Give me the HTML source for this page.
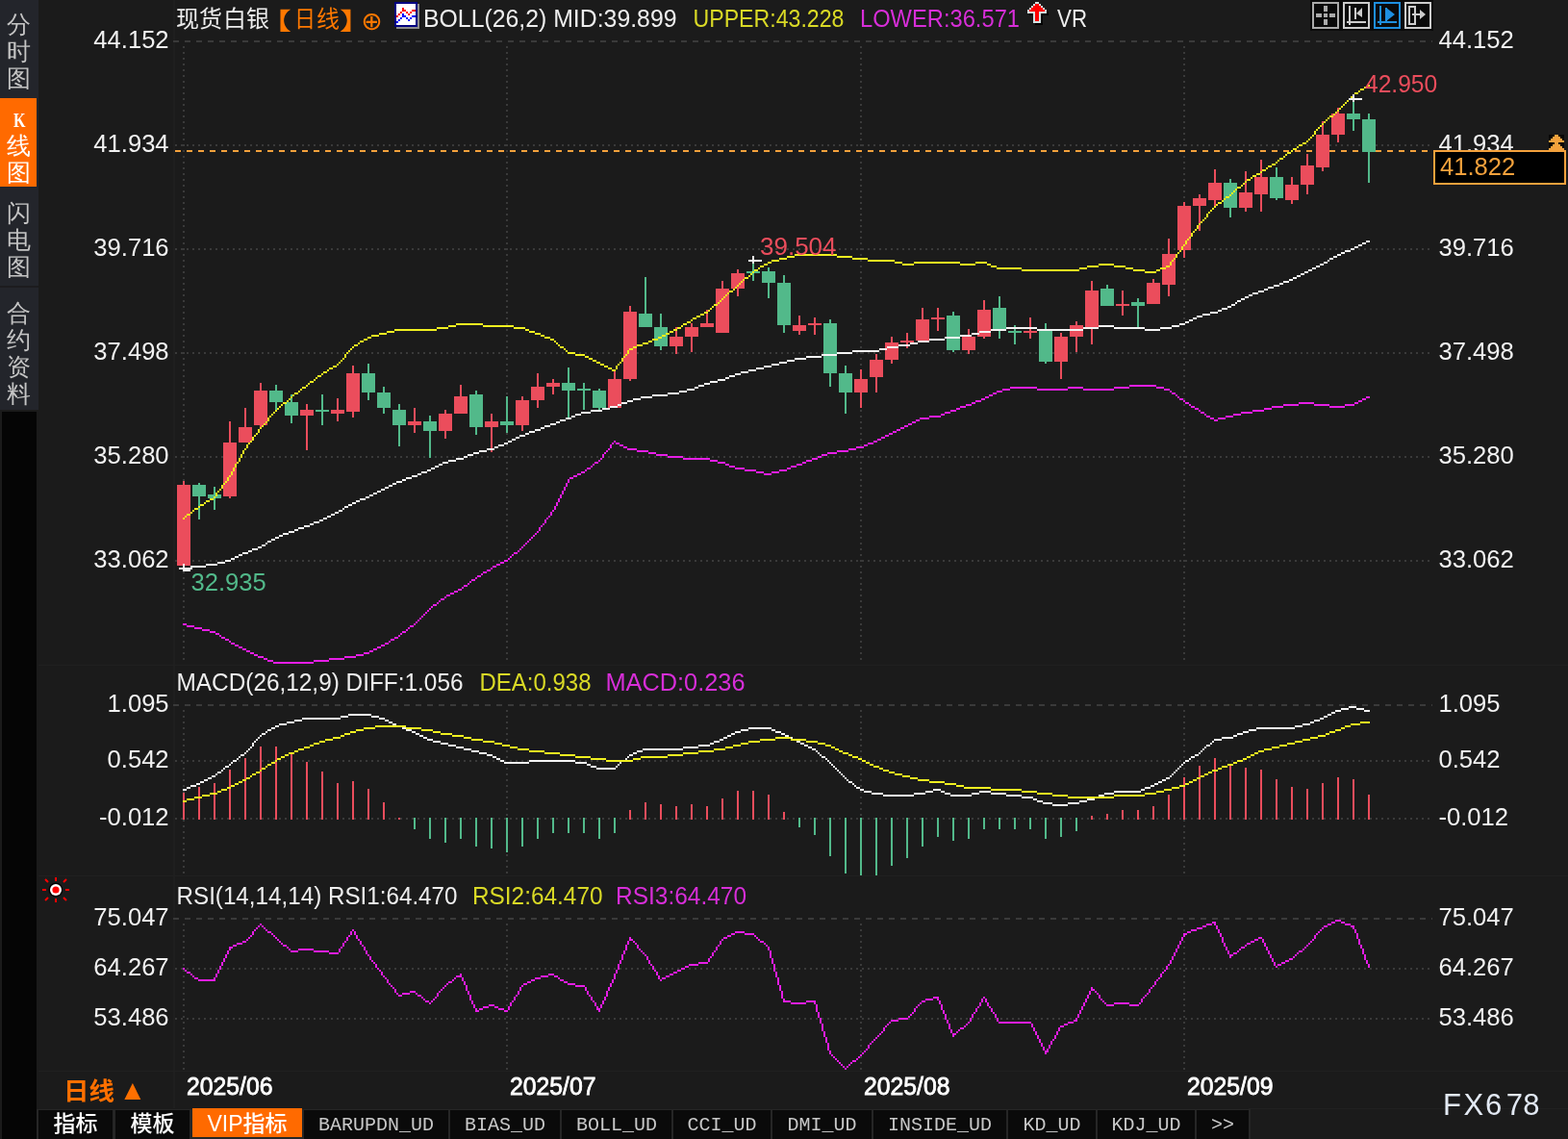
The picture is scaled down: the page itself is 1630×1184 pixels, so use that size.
<!DOCTYPE html>
<html><head><meta charset="utf-8"><title>现货白银 K线图</title>
<style>html,body{margin:0;padding:0;background:#1b1b1b;width:1630px;height:1184px;overflow:hidden}svg text{shape-rendering:auto}</style>
</head><body>
<svg width="1630" height="1184" viewBox="0 0 1630 1184" style="position:absolute;left:0;top:0" shape-rendering="crispEdges"><rect x="0" y="0" width="1630" height="1184" fill="#1b1b1b"/><rect x="0" y="0" width="40" height="426" fill="#23252b"/><rect x="0" y="102" width="38" height="92" fill="#ff6a00"/><rect x="0" y="297" width="40" height="2" fill="#1c1c1e"/><rect x="2" y="428" width="36" height="756" fill="#050505"/><rect x="180" y="0" width="2" height="1152" fill="#1f1f1f"/><rect x="40" y="691" width="1590" height="1" fill="#202020"/><rect x="40" y="910" width="1590" height="1" fill="#202020"/><rect x="40" y="1113" width="1590" height="1" fill="#202020"/><line x1="180" y1="43" x2="1489" y2="43" stroke="#3a3a3a" stroke-width="2" stroke-dasharray="6 6"/><line x1="182" y1="151" x2="1489" y2="151" stroke="#3a3a3a" stroke-width="2" stroke-dasharray="2 4"/><line x1="182" y1="259" x2="1489" y2="259" stroke="#3a3a3a" stroke-width="2" stroke-dasharray="2 4"/><line x1="182" y1="367" x2="1489" y2="367" stroke="#3a3a3a" stroke-width="2" stroke-dasharray="2 4"/><line x1="182" y1="475" x2="1489" y2="475" stroke="#3a3a3a" stroke-width="2" stroke-dasharray="2 4"/><line x1="182" y1="583" x2="1489" y2="583" stroke="#3a3a3a" stroke-width="2" stroke-dasharray="2 4"/><line x1="191" y1="48" x2="191" y2="690" stroke="#3a3a3a" stroke-width="2" stroke-dasharray="2 4"/><line x1="527" y1="48" x2="527" y2="690" stroke="#3a3a3a" stroke-width="2" stroke-dasharray="2 4"/><line x1="895" y1="48" x2="895" y2="690" stroke="#3a3a3a" stroke-width="2" stroke-dasharray="2 4"/><line x1="1231" y1="48" x2="1231" y2="690" stroke="#3a3a3a" stroke-width="2" stroke-dasharray="2 4"/><line x1="180" y1="733" x2="1489" y2="733" stroke="#3a3a3a" stroke-width="2" stroke-dasharray="6 6"/><line x1="182" y1="791" x2="1489" y2="791" stroke="#3a3a3a" stroke-width="2" stroke-dasharray="2 4"/><line x1="182" y1="851" x2="1489" y2="851" stroke="#3a3a3a" stroke-width="2" stroke-dasharray="2 4"/><line x1="191" y1="738" x2="191" y2="910" stroke="#3a3a3a" stroke-width="2" stroke-dasharray="2 4"/><line x1="527" y1="738" x2="527" y2="910" stroke="#3a3a3a" stroke-width="2" stroke-dasharray="2 4"/><line x1="895" y1="738" x2="895" y2="910" stroke="#3a3a3a" stroke-width="2" stroke-dasharray="2 4"/><line x1="1231" y1="738" x2="1231" y2="910" stroke="#3a3a3a" stroke-width="2" stroke-dasharray="2 4"/><line x1="180" y1="955" x2="1489" y2="955" stroke="#3a3a3a" stroke-width="2" stroke-dasharray="6 6"/><line x1="182" y1="1007" x2="1489" y2="1007" stroke="#3a3a3a" stroke-width="2" stroke-dasharray="2 4"/><line x1="182" y1="1059" x2="1489" y2="1059" stroke="#3a3a3a" stroke-width="2" stroke-dasharray="2 4"/><line x1="191" y1="960" x2="191" y2="1113" stroke="#3a3a3a" stroke-width="2" stroke-dasharray="2 4"/><line x1="527" y1="960" x2="527" y2="1113" stroke="#3a3a3a" stroke-width="2" stroke-dasharray="2 4"/><line x1="895" y1="960" x2="895" y2="1113" stroke="#3a3a3a" stroke-width="2" stroke-dasharray="2 4"/><line x1="1231" y1="960" x2="1231" y2="1113" stroke="#3a3a3a" stroke-width="2" stroke-dasharray="2 4"/><line x1="182" y1="157" x2="1489" y2="157" stroke="#f4a13c" stroke-width="2" stroke-dasharray="6 6"/><rect x="190" y="500" width="2" height="88" fill="#eb4d5c"/><rect x="184" y="504" width="14" height="84" fill="#eb4d5c"/><rect x="206" y="502" width="2" height="38" fill="#52b98a"/><rect x="200" y="504" width="14" height="12" fill="#52b98a"/><rect x="222" y="506" width="2" height="24" fill="#52b98a"/><rect x="216" y="514" width="14" height="4" fill="#52b98a"/><rect x="238" y="438" width="2" height="80" fill="#eb4d5c"/><rect x="232" y="460" width="14" height="56" fill="#eb4d5c"/><rect x="254" y="424" width="2" height="36" fill="#eb4d5c"/><rect x="248" y="444" width="14" height="16" fill="#eb4d5c"/><rect x="270" y="398" width="2" height="48" fill="#eb4d5c"/><rect x="264" y="406" width="14" height="36" fill="#eb4d5c"/><rect x="286" y="400" width="2" height="26" fill="#52b98a"/><rect x="280" y="406" width="14" height="12" fill="#52b98a"/><rect x="302" y="410" width="2" height="30" fill="#52b98a"/><rect x="296" y="418" width="14" height="14" fill="#52b98a"/><rect x="318" y="420" width="2" height="48" fill="#eb4d5c"/><rect x="312" y="426" width="14" height="6" fill="#eb4d5c"/><rect x="334" y="410" width="2" height="32" fill="#52b98a"/><rect x="328" y="426" width="14" height="2" fill="#52b98a"/><rect x="350" y="414" width="2" height="24" fill="#eb4d5c"/><rect x="344" y="426" width="14" height="4" fill="#eb4d5c"/><rect x="366" y="380" width="2" height="54" fill="#eb4d5c"/><rect x="360" y="388" width="14" height="40" fill="#eb4d5c"/><rect x="382" y="378" width="2" height="38" fill="#52b98a"/><rect x="376" y="388" width="14" height="20" fill="#52b98a"/><rect x="398" y="402" width="2" height="28" fill="#52b98a"/><rect x="392" y="408" width="14" height="16" fill="#52b98a"/><rect x="414" y="420" width="2" height="44" fill="#52b98a"/><rect x="408" y="426" width="14" height="16" fill="#52b98a"/><rect x="430" y="424" width="2" height="26" fill="#eb4d5c"/><rect x="424" y="438" width="14" height="4" fill="#eb4d5c"/><rect x="446" y="432" width="2" height="44" fill="#52b98a"/><rect x="440" y="438" width="14" height="10" fill="#52b98a"/><rect x="462" y="426" width="2" height="30" fill="#eb4d5c"/><rect x="456" y="430" width="14" height="18" fill="#eb4d5c"/><rect x="478" y="400" width="2" height="30" fill="#eb4d5c"/><rect x="472" y="412" width="14" height="18" fill="#eb4d5c"/><rect x="494" y="406" width="2" height="46" fill="#52b98a"/><rect x="488" y="410" width="14" height="34" fill="#52b98a"/><rect x="510" y="430" width="2" height="40" fill="#eb4d5c"/><rect x="504" y="438" width="14" height="6" fill="#eb4d5c"/><rect x="526" y="412" width="2" height="38" fill="#52b98a"/><rect x="520" y="438" width="14" height="4" fill="#52b98a"/><rect x="542" y="412" width="2" height="36" fill="#eb4d5c"/><rect x="536" y="416" width="14" height="26" fill="#eb4d5c"/><rect x="558" y="388" width="2" height="36" fill="#eb4d5c"/><rect x="552" y="402" width="14" height="14" fill="#eb4d5c"/><rect x="574" y="394" width="2" height="16" fill="#eb4d5c"/><rect x="568" y="398" width="14" height="4" fill="#eb4d5c"/><rect x="590" y="382" width="2" height="52" fill="#52b98a"/><rect x="584" y="398" width="14" height="8" fill="#52b98a"/><rect x="606" y="398" width="2" height="28" fill="#52b98a"/><rect x="600" y="404" width="14" height="2" fill="#52b98a"/><rect x="622" y="404" width="2" height="22" fill="#52b98a"/><rect x="616" y="406" width="14" height="18" fill="#52b98a"/><rect x="638" y="386" width="2" height="38" fill="#eb4d5c"/><rect x="632" y="394" width="14" height="30" fill="#eb4d5c"/><rect x="654" y="318" width="2" height="78" fill="#eb4d5c"/><rect x="648" y="324" width="14" height="70" fill="#eb4d5c"/><rect x="670" y="288" width="2" height="52" fill="#52b98a"/><rect x="664" y="326" width="14" height="14" fill="#52b98a"/><rect x="686" y="326" width="2" height="38" fill="#52b98a"/><rect x="680" y="340" width="14" height="20" fill="#52b98a"/><rect x="702" y="340" width="2" height="28" fill="#eb4d5c"/><rect x="696" y="350" width="14" height="10" fill="#eb4d5c"/><rect x="718" y="336" width="2" height="30" fill="#eb4d5c"/><rect x="712" y="340" width="14" height="10" fill="#eb4d5c"/><rect x="734" y="322" width="2" height="18" fill="#eb4d5c"/><rect x="728" y="336" width="14" height="4" fill="#eb4d5c"/><rect x="750" y="292" width="2" height="54" fill="#eb4d5c"/><rect x="744" y="300" width="14" height="46" fill="#eb4d5c"/><rect x="766" y="280" width="2" height="28" fill="#eb4d5c"/><rect x="760" y="284" width="14" height="16" fill="#eb4d5c"/><rect x="782" y="272" width="2" height="20" fill="#52b98a"/><rect x="776" y="282" width="14" height="2" fill="#52b98a"/><rect x="798" y="278" width="2" height="32" fill="#52b98a"/><rect x="792" y="282" width="14" height="12" fill="#52b98a"/><rect x="814" y="286" width="2" height="60" fill="#52b98a"/><rect x="808" y="294" width="14" height="44" fill="#52b98a"/><rect x="830" y="328" width="2" height="20" fill="#eb4d5c"/><rect x="824" y="338" width="14" height="6" fill="#eb4d5c"/><rect x="846" y="330" width="2" height="18" fill="#eb4d5c"/><rect x="840" y="336" width="14" height="2" fill="#eb4d5c"/><rect x="862" y="332" width="2" height="70" fill="#52b98a"/><rect x="856" y="336" width="14" height="52" fill="#52b98a"/><rect x="878" y="380" width="2" height="50" fill="#52b98a"/><rect x="872" y="388" width="14" height="20" fill="#52b98a"/><rect x="894" y="384" width="2" height="40" fill="#eb4d5c"/><rect x="888" y="394" width="14" height="14" fill="#eb4d5c"/><rect x="910" y="368" width="2" height="40" fill="#eb4d5c"/><rect x="904" y="374" width="14" height="18" fill="#eb4d5c"/><rect x="926" y="350" width="2" height="28" fill="#eb4d5c"/><rect x="920" y="356" width="14" height="18" fill="#eb4d5c"/><rect x="942" y="346" width="2" height="16" fill="#eb4d5c"/><rect x="936" y="354" width="14" height="2" fill="#eb4d5c"/><rect x="958" y="320" width="2" height="34" fill="#eb4d5c"/><rect x="952" y="332" width="14" height="22" fill="#eb4d5c"/><rect x="974" y="320" width="2" height="24" fill="#eb4d5c"/><rect x="968" y="330" width="14" height="2" fill="#eb4d5c"/><rect x="990" y="324" width="2" height="42" fill="#52b98a"/><rect x="984" y="328" width="14" height="36" fill="#52b98a"/><rect x="1006" y="342" width="2" height="26" fill="#eb4d5c"/><rect x="1000" y="350" width="14" height="14" fill="#eb4d5c"/><rect x="1022" y="312" width="2" height="40" fill="#eb4d5c"/><rect x="1016" y="322" width="14" height="28" fill="#eb4d5c"/><rect x="1038" y="308" width="2" height="44" fill="#52b98a"/><rect x="1032" y="320" width="14" height="22" fill="#52b98a"/><rect x="1054" y="338" width="2" height="20" fill="#52b98a"/><rect x="1048" y="344" width="14" height="2" fill="#52b98a"/><rect x="1070" y="330" width="2" height="22" fill="#eb4d5c"/><rect x="1064" y="344" width="14" height="2" fill="#eb4d5c"/><rect x="1086" y="336" width="2" height="42" fill="#52b98a"/><rect x="1080" y="344" width="14" height="32" fill="#52b98a"/><rect x="1102" y="346" width="2" height="48" fill="#eb4d5c"/><rect x="1096" y="350" width="14" height="26" fill="#eb4d5c"/><rect x="1118" y="334" width="2" height="32" fill="#eb4d5c"/><rect x="1112" y="338" width="14" height="12" fill="#eb4d5c"/><rect x="1134" y="292" width="2" height="66" fill="#eb4d5c"/><rect x="1128" y="302" width="14" height="38" fill="#eb4d5c"/><rect x="1150" y="296" width="2" height="22" fill="#52b98a"/><rect x="1144" y="300" width="14" height="18" fill="#52b98a"/><rect x="1166" y="302" width="2" height="26" fill="#eb4d5c"/><rect x="1160" y="316" width="14" height="2" fill="#eb4d5c"/><rect x="1182" y="310" width="2" height="30" fill="#52b98a"/><rect x="1176" y="314" width="14" height="4" fill="#52b98a"/><rect x="1198" y="290" width="2" height="26" fill="#eb4d5c"/><rect x="1192" y="294" width="14" height="22" fill="#eb4d5c"/><rect x="1214" y="248" width="2" height="60" fill="#eb4d5c"/><rect x="1208" y="264" width="14" height="32" fill="#eb4d5c"/><rect x="1230" y="210" width="2" height="58" fill="#eb4d5c"/><rect x="1224" y="214" width="14" height="46" fill="#eb4d5c"/><rect x="1246" y="202" width="2" height="38" fill="#eb4d5c"/><rect x="1240" y="206" width="14" height="8" fill="#eb4d5c"/><rect x="1262" y="176" width="2" height="38" fill="#eb4d5c"/><rect x="1256" y="190" width="14" height="18" fill="#eb4d5c"/><rect x="1278" y="186" width="2" height="40" fill="#52b98a"/><rect x="1272" y="190" width="14" height="26" fill="#52b98a"/><rect x="1294" y="178" width="2" height="42" fill="#eb4d5c"/><rect x="1288" y="200" width="14" height="16" fill="#eb4d5c"/><rect x="1310" y="166" width="2" height="54" fill="#eb4d5c"/><rect x="1304" y="184" width="14" height="18" fill="#eb4d5c"/><rect x="1326" y="174" width="2" height="34" fill="#52b98a"/><rect x="1320" y="184" width="14" height="22" fill="#52b98a"/><rect x="1342" y="184" width="2" height="28" fill="#eb4d5c"/><rect x="1336" y="192" width="14" height="16" fill="#eb4d5c"/><rect x="1358" y="160" width="2" height="42" fill="#eb4d5c"/><rect x="1352" y="172" width="14" height="20" fill="#eb4d5c"/><rect x="1374" y="126" width="2" height="52" fill="#eb4d5c"/><rect x="1368" y="140" width="14" height="34" fill="#eb4d5c"/><rect x="1390" y="112" width="2" height="36" fill="#eb4d5c"/><rect x="1384" y="118" width="14" height="22" fill="#eb4d5c"/><rect x="1406" y="102" width="2" height="34" fill="#52b98a"/><rect x="1400" y="118" width="14" height="6" fill="#52b98a"/><rect x="1422" y="118" width="2" height="72" fill="#52b98a"/><rect x="1416" y="124" width="14" height="34" fill="#52b98a"/><path d="M1422 88h2v2h-2zM1418 90h4v2h-4zM1414 92h4v2h-4zM1412 94h2v2h-2zM1408 96h4v2h-4zM1406 98h2v2h-2zM1404 100h2v2h-2zM1402 102h2v2h-2zM1400 104h2v2h-2zM1398 106h2v2h-2zM1396 108h2v2h-2zM1394 110h2v2h-2zM1392 112h2v2h-2zM1390 114h2v2h-2zM1388 116h2v2h-2zM1386 118h2v2h-2zM1382 120h4v2h-4zM1380 122h2v2h-2zM1378 124h2v2h-2zM1376 126h2v2h-2zM1374 128h2v2h-2zM1372 130h2v2h-2zM1370 132h2v2h-2zM1368 134h2v2h-2zM1366 136h2v2h-2zM1366 138h2v2h-2zM1364 140h2v2h-2zM1362 142h2v2h-2zM1360 144h2v2h-2zM1358 146h2v2h-2zM1354 148h4v2h-4zM1350 150h4v2h-4zM1348 152h2v2h-2zM1344 154h4v2h-4zM1342 156h2v2h-2zM1338 158h4v2h-4zM1336 160h2v2h-2zM1334 162h2v2h-2zM1330 164h4v2h-4zM1328 166h2v2h-2zM1326 168h2v2h-2zM1322 170h4v2h-4zM1318 172h4v2h-4zM1316 174h2v2h-2zM1312 176h4v2h-4zM1310 178h2v2h-2zM1306 180h4v2h-4zM1302 182h4v2h-4zM1300 184h2v2h-2zM1296 186h4v2h-4zM1294 188h2v2h-2zM1292 190h2v2h-2zM1290 192h2v2h-2zM1286 194h4v2h-4zM1284 196h2v2h-2zM1282 198h2v2h-2zM1280 200h2v2h-2zM1278 202h2v2h-2zM1274 204h4v2h-4zM1272 206h2v2h-2zM1270 208h2v2h-2zM1266 210h4v2h-4zM1264 212h2v2h-2zM1262 214h2v2h-2zM1260 216h2v2h-2zM1258 218h2v2h-2zM1256 220h2v2h-2zM1254 222h2v2h-2zM1254 224h2v2h-2zM1252 226h2v2h-2zM1250 228h2v2h-2zM1248 230h2v2h-2zM1246 232h2v2h-2zM1244 234h2v2h-2zM1244 236h2v2h-2zM1242 238h2v2h-2zM1240 240h2v2h-2zM1238 242h2v2h-2zM1238 244h2v2h-2zM1236 246h2v2h-2zM1234 248h2v2h-2zM1232 250h2v2h-2zM1232 252h2v2h-2zM1230 254h2v2h-2zM1228 256h2v2h-2zM1228 258h2v2h-2zM1226 260h2v2h-2zM1224 262h2v2h-2zM826 264h44v2h-44zM1222 264h2v2h-2zM818 266h8v2h-8zM870 266h16v2h-16zM1222 266h2v2h-2zM810 268h8v2h-8zM886 268h16v2h-16zM1220 268h2v2h-2zM802 270h8v2h-8zM902 270h28v2h-28zM1218 270h2v2h-2zM798 272h4v2h-4zM930 272h8v2h-8zM950 272h48v2h-48zM1014 272h12v2h-12zM1216 272h2v2h-2zM794 274h4v2h-4zM938 274h12v2h-12zM998 274h16v2h-16zM1026 274h4v2h-4zM1142 274h16v2h-16zM1216 274h2v2h-2zM790 276h4v2h-4zM1030 276h6v2h-6zM1130 276h12v2h-12zM1158 276h12v2h-12zM1212 276h4v2h-4zM788 278h2v2h-2zM1036 278h26v2h-26zM1122 278h8v2h-8zM1170 278h8v2h-8zM1206 278h6v2h-6zM784 280h4v2h-4zM1062 280h60v2h-60zM1178 280h12v2h-12zM1202 280h4v2h-4zM782 282h2v2h-2zM1190 282h12v2h-12zM780 284h2v2h-2zM778 286h2v2h-2zM774 288h4v2h-4zM772 290h2v2h-2zM770 292h2v2h-2zM768 294h2v2h-2zM766 296h2v2h-2zM764 298h2v2h-2zM762 300h2v2h-2zM758 302h4v2h-4zM756 304h2v2h-2zM754 306h2v2h-2zM752 308h2v2h-2zM750 310h2v2h-2zM748 312h2v2h-2zM746 314h2v2h-2zM742 316h4v2h-4zM740 318h2v2h-2zM738 320h2v2h-2zM736 322h2v2h-2zM732 324h4v2h-4zM728 326h4v2h-4zM724 328h4v2h-4zM720 330h4v2h-4zM718 332h2v2h-2zM714 334h4v2h-4zM474 336h28v2h-28zM710 336h4v2h-4zM466 338h8v2h-8zM502 338h32v2h-32zM708 338h2v2h-2zM454 340h12v2h-12zM534 340h12v2h-12zM704 340h4v2h-4zM410 342h44v2h-44zM546 342h4v2h-4zM700 342h4v2h-4zM402 344h8v2h-8zM550 344h6v2h-6zM696 344h4v2h-4zM394 346h8v2h-8zM556 346h6v2h-6zM692 346h4v2h-4zM386 348h8v2h-8zM562 348h4v2h-4zM688 348h4v2h-4zM382 350h4v2h-4zM566 350h6v2h-6zM684 350h4v2h-4zM378 352h4v2h-4zM572 352h4v2h-4zM678 352h6v2h-6zM374 354h4v2h-4zM576 354h2v2h-2zM674 354h4v2h-4zM372 356h2v2h-2zM578 356h2v2h-2zM668 356h6v2h-6zM368 358h4v2h-4zM580 358h2v2h-2zM662 358h6v2h-6zM366 360h2v2h-2zM582 360h4v2h-4zM658 360h4v2h-4zM364 362h2v2h-2zM586 362h2v2h-2zM654 362h4v2h-4zM362 364h2v2h-2zM588 364h2v2h-2zM652 364h2v2h-2zM360 366h2v2h-2zM590 366h8v2h-8zM652 366h2v2h-2zM358 368h2v2h-2zM598 368h10v2h-10zM650 368h2v2h-2zM358 370h2v2h-2zM608 370h4v2h-4zM648 370h2v2h-2zM356 372h2v2h-2zM612 372h4v2h-4zM646 372h2v2h-2zM354 374h2v2h-2zM616 374h4v2h-4zM646 374h2v2h-2zM352 376h2v2h-2zM620 376h4v2h-4zM644 376h2v2h-2zM350 378h2v2h-2zM624 378h4v2h-4zM642 378h2v2h-2zM346 380h4v2h-4zM628 380h4v2h-4zM640 380h2v2h-2zM342 382h4v2h-4zM632 382h4v2h-4zM640 382h2v2h-2zM340 384h2v2h-2zM636 384h4v2h-4zM336 386h4v2h-4zM334 388h2v2h-2zM330 390h4v2h-4zM328 392h2v2h-2zM326 394h2v2h-2zM322 396h4v2h-4zM320 398h2v2h-2zM318 400h2v2h-2zM314 402h4v2h-4zM312 404h2v2h-2zM310 406h2v2h-2zM306 408h4v2h-4zM304 410h2v2h-2zM302 412h2v2h-2zM300 414h2v2h-2zM298 416h2v2h-2zM294 418h4v2h-4zM292 420h2v2h-2zM290 422h2v2h-2zM288 424h2v2h-2zM286 426h2v2h-2zM284 428h2v2h-2zM282 430h2v2h-2zM280 432h2v2h-2zM278 434h2v2h-2zM278 436h2v2h-2zM276 438h2v2h-2zM274 440h2v2h-2zM272 442h2v2h-2zM270 444h2v2h-2zM268 446h2v2h-2zM268 448h2v2h-2zM266 450h2v2h-2zM264 452h2v2h-2zM262 454h2v2h-2zM262 456h2v2h-2zM260 458h2v2h-2zM258 460h2v2h-2zM256 462h2v2h-2zM256 464h2v2h-2zM254 466h2v2h-2zM252 468h2v2h-2zM252 470h2v2h-2zM250 472h2v2h-2zM250 474h2v2h-2zM248 476h2v2h-2zM248 478h2v2h-2zM246 480h2v2h-2zM244 482h2v2h-2zM244 484h2v2h-2zM242 486h2v2h-2zM242 488h2v2h-2zM240 490h2v2h-2zM240 492h2v2h-2zM238 494h2v2h-2zM236 496h2v2h-2zM236 498h2v2h-2zM234 500h2v2h-2zM232 502h2v2h-2zM230 504h2v2h-2zM230 506h2v2h-2zM228 508h2v2h-2zM226 510h2v2h-2zM224 512h2v2h-2zM224 514h2v2h-2zM222 516h2v2h-2zM218 518h4v2h-4zM214 520h4v2h-4zM212 522h2v2h-2zM208 524h4v2h-4zM206 526h2v2h-2zM202 528h4v2h-4zM200 530h2v2h-2zM198 532h2v2h-2zM194 534h4v2h-4zM192 536h2v2h-2zM190 538h2v2h-2z" fill="#f0f020"/><path d="M1420 250h4v2h-4zM1416 252h4v2h-4zM1412 254h4v2h-4zM1408 256h4v2h-4zM1404 258h4v2h-4zM1398 260h6v2h-6zM1394 262h4v2h-4zM1390 264h4v2h-4zM1386 266h4v2h-4zM1382 268h4v2h-4zM1380 270h2v2h-2zM1376 272h4v2h-4zM1372 274h4v2h-4zM1368 276h4v2h-4zM1364 278h4v2h-4zM1360 280h4v2h-4zM1356 282h4v2h-4zM1352 284h4v2h-4zM1348 286h4v2h-4zM1344 288h4v2h-4zM1340 290h4v2h-4zM1334 292h6v2h-6zM1330 294h4v2h-4zM1324 296h6v2h-6zM1318 298h6v2h-6zM1314 300h4v2h-4zM1308 302h6v2h-6zM1302 304h6v2h-6zM1298 306h4v2h-4zM1294 308h4v2h-4zM1290 310h4v2h-4zM1286 312h4v2h-4zM1284 314h2v2h-2zM1280 316h4v2h-4zM1276 318h4v2h-4zM1270 320h6v2h-6zM1266 322h4v2h-4zM1258 324h8v2h-8zM1250 326h8v2h-8zM1244 328h6v2h-6zM1240 330h4v2h-4zM1236 332h4v2h-4zM1232 334h4v2h-4zM1226 336h6v2h-6zM1142 338h16v2h-16zM1218 338h8v2h-8zM1046 340h32v2h-32zM1126 340h16v2h-16zM1158 340h32v2h-32zM1206 340h12v2h-12zM1030 342h16v2h-16zM1078 342h48v2h-48zM1190 342h16v2h-16zM1018 344h12v2h-12zM1010 346h8v2h-8zM998 348h12v2h-12zM982 350h16v2h-16zM966 352h16v2h-16zM954 354h12v2h-12zM946 356h8v2h-8zM934 358h12v2h-12zM922 360h12v2h-12zM914 362h8v2h-8zM886 364h28v2h-28zM870 366h16v2h-16zM854 368h16v2h-16zM838 370h16v2h-16zM826 372h12v2h-12zM818 374h8v2h-8zM810 376h8v2h-8zM802 378h8v2h-8zM794 380h8v2h-8zM786 382h8v2h-8zM778 384h8v2h-8zM770 386h8v2h-8zM764 388h6v2h-6zM758 390h6v2h-6zM754 392h4v2h-4zM746 394h8v2h-8zM738 396h8v2h-8zM732 398h6v2h-6zM726 400h6v2h-6zM722 402h4v2h-4zM714 404h8v2h-8zM706 406h8v2h-8zM694 408h12v2h-12zM678 410h16v2h-16zM666 412h12v2h-12zM658 414h8v2h-8zM652 416h6v2h-6zM646 418h6v2h-6zM642 420h4v2h-4zM634 422h8v2h-8zM626 424h8v2h-8zM614 426h12v2h-12zM604 428h10v2h-10zM598 430h6v2h-6zM594 432h4v2h-4zM588 434h6v2h-6zM582 436h6v2h-6zM578 438h4v2h-4zM572 440h6v2h-6zM566 442h6v2h-6zM562 444h4v2h-4zM556 446h6v2h-6zM550 448h6v2h-6zM546 450h4v2h-4zM540 452h6v2h-6zM536 454h4v2h-4zM532 456h4v2h-4zM528 458h4v2h-4zM524 460h4v2h-4zM518 462h6v2h-6zM514 464h4v2h-4zM506 466h8v2h-8zM498 468h8v2h-8zM492 470h6v2h-6zM486 472h6v2h-6zM482 474h4v2h-4zM474 476h8v2h-8zM466 478h8v2h-8zM460 480h6v2h-6zM456 482h4v2h-4zM452 484h4v2h-4zM448 486h4v2h-4zM444 488h4v2h-4zM438 490h6v2h-6zM434 492h4v2h-4zM428 494h6v2h-6zM422 496h6v2h-6zM418 498h4v2h-4zM412 500h6v2h-6zM408 502h4v2h-4zM404 504h4v2h-4zM400 506h4v2h-4zM396 508h4v2h-4zM392 510h4v2h-4zM388 512h4v2h-4zM384 514h4v2h-4zM380 516h4v2h-4zM374 518h6v2h-6zM370 520h4v2h-4zM366 522h4v2h-4zM362 524h4v2h-4zM358 526h4v2h-4zM356 528h2v2h-2zM352 530h4v2h-4zM348 532h4v2h-4zM344 534h4v2h-4zM340 536h4v2h-4zM336 538h4v2h-4zM332 540h4v2h-4zM326 542h6v2h-6zM322 544h4v2h-4zM316 546h6v2h-6zM310 548h6v2h-6zM306 550h4v2h-4zM300 552h6v2h-6zM294 554h6v2h-6zM290 556h4v2h-4zM286 558h4v2h-4zM282 560h4v2h-4zM278 562h4v2h-4zM276 564h2v2h-2zM272 566h4v2h-4zM268 568h4v2h-4zM262 570h6v2h-6zM258 572h4v2h-4zM252 574h6v2h-6zM248 576h4v2h-4zM244 578h4v2h-4zM240 580h4v2h-4zM234 582h6v2h-6zM226 584h8v2h-8zM214 586h12v2h-12zM198 588h16v2h-16zM190 590h8v2h-8z" fill="#f4f4f4"/><path d="M1174 400h28v2h-28zM1050 402h28v2h-28zM1110 402h16v2h-16zM1158 402h16v2h-16zM1202 402h8v2h-8zM1042 404h8v2h-8zM1078 404h32v2h-32zM1126 404h32v2h-32zM1210 404h6v2h-6zM1036 406h6v2h-6zM1216 406h2v2h-2zM1032 408h4v2h-4zM1218 408h4v2h-4zM1028 410h4v2h-4zM1222 410h2v2h-2zM1024 412h4v2h-4zM1224 412h2v2h-2zM1420 412h4v2h-4zM1020 414h4v2h-4zM1226 414h4v2h-4zM1416 414h4v2h-4zM1014 416h6v2h-6zM1230 416h2v2h-2zM1412 416h4v2h-4zM1010 418h4v2h-4zM1232 418h4v2h-4zM1350 418h16v2h-16zM1408 418h4v2h-4zM1004 420h6v2h-6zM1236 420h2v2h-2zM1334 420h16v2h-16zM1366 420h16v2h-16zM1398 420h10v2h-10zM998 422h6v2h-6zM1238 422h4v2h-4zM1322 422h12v2h-12zM1382 422h16v2h-16zM994 424h4v2h-4zM1242 424h4v2h-4zM1314 424h8v2h-8zM988 426h6v2h-6zM1246 426h2v2h-2zM1302 426h12v2h-12zM982 428h6v2h-6zM1248 428h4v2h-4zM1290 428h12v2h-12zM978 430h4v2h-4zM1252 430h2v2h-2zM1282 430h8v2h-8zM966 432h12v2h-12zM1254 432h4v2h-4zM1274 432h8v2h-8zM956 434h10v2h-10zM1258 434h4v2h-4zM1266 434h8v2h-8zM952 436h4v2h-4zM1262 436h4v2h-4zM948 438h4v2h-4zM944 440h4v2h-4zM940 442h4v2h-4zM936 444h4v2h-4zM932 446h4v2h-4zM928 448h4v2h-4zM924 450h4v2h-4zM920 452h4v2h-4zM916 454h4v2h-4zM912 456h4v2h-4zM638 458h2v2h-2zM908 458h4v2h-4zM636 460h2v2h-2zM640 460h4v2h-4zM902 460h6v2h-6zM634 462h2v2h-2zM644 462h4v2h-4zM898 462h4v2h-4zM634 464h2v2h-2zM648 464h4v2h-4zM890 464h8v2h-8zM632 466h2v2h-2zM652 466h10v2h-10zM882 466h8v2h-8zM630 468h2v2h-2zM662 468h12v2h-12zM870 468h12v2h-12zM628 470h2v2h-2zM674 470h8v2h-8zM860 470h10v2h-10zM626 472h2v2h-2zM682 472h12v2h-12zM854 472h6v2h-6zM626 474h2v2h-2zM694 474h16v2h-16zM850 474h4v2h-4zM624 476h2v2h-2zM710 476h28v2h-28zM844 476h6v2h-6zM622 478h2v2h-2zM738 478h8v2h-8zM838 478h6v2h-6zM618 480h4v2h-4zM746 480h8v2h-8zM834 480h4v2h-4zM616 482h2v2h-2zM754 482h4v2h-4zM828 482h6v2h-6zM614 484h2v2h-2zM758 484h6v2h-6zM822 484h6v2h-6zM610 486h4v2h-4zM764 486h10v2h-10zM818 486h4v2h-4zM608 488h2v2h-2zM774 488h12v2h-12zM810 488h8v2h-8zM604 490h4v2h-4zM786 490h8v2h-8zM802 490h8v2h-8zM600 492h4v2h-4zM794 492h8v2h-8zM596 494h4v2h-4zM592 496h4v2h-4zM590 498h2v2h-2zM590 500h2v2h-2zM588 502h2v2h-2zM588 504h2v2h-2zM586 506h2v2h-2zM586 508h2v2h-2zM584 510h2v2h-2zM584 512h2v2h-2zM582 514h2v2h-2zM582 516h2v2h-2zM580 518h2v2h-2zM580 520h2v2h-2zM578 522h2v2h-2zM578 524h2v2h-2zM576 526h2v2h-2zM576 528h2v2h-2zM574 530h2v2h-2zM572 532h2v2h-2zM572 534h2v2h-2zM570 536h2v2h-2zM568 538h2v2h-2zM566 540h2v2h-2zM566 542h2v2h-2zM564 544h2v2h-2zM562 546h2v2h-2zM560 548h2v2h-2zM560 550h2v2h-2zM558 552h2v2h-2zM556 554h2v2h-2zM554 556h2v2h-2zM552 558h2v2h-2zM550 560h2v2h-2zM548 562h2v2h-2zM546 564h2v2h-2zM544 566h2v2h-2zM542 568h2v2h-2zM540 570h2v2h-2zM538 572h2v2h-2zM534 574h4v2h-4zM532 576h2v2h-2zM530 578h2v2h-2zM528 580h2v2h-2zM524 582h4v2h-4zM520 584h4v2h-4zM516 586h4v2h-4zM512 588h4v2h-4zM510 590h2v2h-2zM506 592h4v2h-4zM502 594h4v2h-4zM500 596h2v2h-2zM496 598h4v2h-4zM494 600h2v2h-2zM490 602h4v2h-4zM488 604h2v2h-2zM486 606h2v2h-2zM482 608h4v2h-4zM480 610h2v2h-2zM476 612h4v2h-4zM472 614h4v2h-4zM468 616h4v2h-4zM464 618h4v2h-4zM462 620h2v2h-2zM458 622h4v2h-4zM456 624h2v2h-2zM454 626h2v2h-2zM450 628h4v2h-4zM448 630h2v2h-2zM446 632h2v2h-2zM444 634h2v2h-2zM442 636h2v2h-2zM440 638h2v2h-2zM438 640h2v2h-2zM436 642h2v2h-2zM434 644h2v2h-2zM432 646h2v2h-2zM190 648h4v2h-4zM430 648h2v2h-2zM194 650h8v2h-8zM426 650h4v2h-4zM202 652h8v2h-8zM424 652h2v2h-2zM210 654h8v2h-8zM422 654h2v2h-2zM218 656h6v2h-6zM418 656h4v2h-4zM224 658h4v2h-4zM416 658h2v2h-2zM228 660h2v2h-2zM414 660h2v2h-2zM230 662h4v2h-4zM410 662h4v2h-4zM234 664h4v2h-4zM406 664h4v2h-4zM238 666h2v2h-2zM404 666h2v2h-2zM240 668h4v2h-4zM400 668h4v2h-4zM244 670h4v2h-4zM396 670h4v2h-4zM248 672h4v2h-4zM392 672h4v2h-4zM252 674h4v2h-4zM388 674h4v2h-4zM256 676h4v2h-4zM384 676h4v2h-4zM260 678h4v2h-4zM378 678h6v2h-6zM264 680h4v2h-4zM370 680h8v2h-8zM268 682h6v2h-6zM358 682h12v2h-12zM274 684h4v2h-4zM342 684h16v2h-16zM278 686h6v2h-6zM326 686h16v2h-16zM284 688h42v2h-42z" fill="#e61ee6"/><g fill="#f4f4f4"><rect x="778" y="270" width="14" height="2"/><rect x="782" y="266" width="2" height="8"/></g><g fill="#f4f4f4"><rect x="1402" y="102" width="14" height="2"/><rect x="1406" y="98" width="2" height="8"/></g><g fill="#f4f4f4"><rect x="186" y="590" width="14" height="2"/><rect x="190" y="586" width="2" height="8"/><rect x="190" y="592" width="8" height="2"/></g><rect x="190" y="824" width="2" height="28" fill="#eb4d5c"/><rect x="206" y="818" width="2" height="34" fill="#eb4d5c"/><rect x="222" y="814" width="2" height="38" fill="#eb4d5c"/><rect x="238" y="800" width="2" height="52" fill="#eb4d5c"/><rect x="254" y="788" width="2" height="64" fill="#eb4d5c"/><rect x="270" y="776" width="2" height="76" fill="#eb4d5c"/><rect x="286" y="776" width="2" height="76" fill="#eb4d5c"/><rect x="302" y="784" width="2" height="68" fill="#eb4d5c"/><rect x="318" y="792" width="2" height="60" fill="#eb4d5c"/><rect x="334" y="802" width="2" height="50" fill="#eb4d5c"/><rect x="350" y="814" width="2" height="38" fill="#eb4d5c"/><rect x="366" y="812" width="2" height="40" fill="#eb4d5c"/><rect x="382" y="820" width="2" height="32" fill="#eb4d5c"/><rect x="398" y="834" width="2" height="18" fill="#eb4d5c"/><rect x="414" y="850" width="2" height="2" fill="#eb4d5c"/><rect x="430" y="850" width="2" height="12" fill="#52b98a"/><rect x="446" y="850" width="2" height="22" fill="#52b98a"/><rect x="462" y="850" width="2" height="26" fill="#52b98a"/><rect x="478" y="850" width="2" height="22" fill="#52b98a"/><rect x="494" y="850" width="2" height="30" fill="#52b98a"/><rect x="510" y="850" width="2" height="32" fill="#52b98a"/><rect x="526" y="850" width="2" height="36" fill="#52b98a"/><rect x="542" y="850" width="2" height="30" fill="#52b98a"/><rect x="558" y="850" width="2" height="22" fill="#52b98a"/><rect x="574" y="850" width="2" height="16" fill="#52b98a"/><rect x="590" y="850" width="2" height="16" fill="#52b98a"/><rect x="606" y="850" width="2" height="16" fill="#52b98a"/><rect x="622" y="850" width="2" height="22" fill="#52b98a"/><rect x="638" y="850" width="2" height="16" fill="#52b98a"/><rect x="654" y="842" width="2" height="10" fill="#eb4d5c"/><rect x="670" y="834" width="2" height="18" fill="#eb4d5c"/><rect x="686" y="836" width="2" height="16" fill="#eb4d5c"/><rect x="702" y="838" width="2" height="14" fill="#eb4d5c"/><rect x="718" y="836" width="2" height="16" fill="#eb4d5c"/><rect x="734" y="838" width="2" height="14" fill="#eb4d5c"/><rect x="750" y="830" width="2" height="22" fill="#eb4d5c"/><rect x="766" y="822" width="2" height="30" fill="#eb4d5c"/><rect x="782" y="822" width="2" height="30" fill="#eb4d5c"/><rect x="798" y="826" width="2" height="26" fill="#eb4d5c"/><rect x="814" y="844" width="2" height="8" fill="#eb4d5c"/><rect x="830" y="850" width="2" height="10" fill="#52b98a"/><rect x="846" y="850" width="2" height="18" fill="#52b98a"/><rect x="862" y="850" width="2" height="40" fill="#52b98a"/><rect x="878" y="850" width="2" height="58" fill="#52b98a"/><rect x="894" y="850" width="2" height="60" fill="#52b98a"/><rect x="910" y="850" width="2" height="60" fill="#52b98a"/><rect x="926" y="850" width="2" height="50" fill="#52b98a"/><rect x="942" y="850" width="2" height="42" fill="#52b98a"/><rect x="958" y="850" width="2" height="30" fill="#52b98a"/><rect x="974" y="850" width="2" height="20" fill="#52b98a"/><rect x="990" y="850" width="2" height="24" fill="#52b98a"/><rect x="1006" y="850" width="2" height="22" fill="#52b98a"/><rect x="1022" y="850" width="2" height="12" fill="#52b98a"/><rect x="1038" y="850" width="2" height="12" fill="#52b98a"/><rect x="1054" y="850" width="2" height="12" fill="#52b98a"/><rect x="1070" y="850" width="2" height="12" fill="#52b98a"/><rect x="1086" y="850" width="2" height="22" fill="#52b98a"/><rect x="1102" y="850" width="2" height="20" fill="#52b98a"/><rect x="1118" y="850" width="2" height="14" fill="#52b98a"/><rect x="1134" y="848" width="2" height="4" fill="#eb4d5c"/><rect x="1150" y="846" width="2" height="6" fill="#eb4d5c"/><rect x="1166" y="842" width="2" height="10" fill="#eb4d5c"/><rect x="1182" y="842" width="2" height="10" fill="#eb4d5c"/><rect x="1198" y="838" width="2" height="14" fill="#eb4d5c"/><rect x="1214" y="826" width="2" height="26" fill="#eb4d5c"/><rect x="1230" y="808" width="2" height="44" fill="#eb4d5c"/><rect x="1246" y="796" width="2" height="56" fill="#eb4d5c"/><rect x="1262" y="788" width="2" height="64" fill="#eb4d5c"/><rect x="1278" y="794" width="2" height="58" fill="#eb4d5c"/><rect x="1294" y="798" width="2" height="54" fill="#eb4d5c"/><rect x="1310" y="800" width="2" height="52" fill="#eb4d5c"/><rect x="1326" y="810" width="2" height="42" fill="#eb4d5c"/><rect x="1342" y="818" width="2" height="34" fill="#eb4d5c"/><rect x="1358" y="820" width="2" height="32" fill="#eb4d5c"/><rect x="1374" y="814" width="2" height="38" fill="#eb4d5c"/><rect x="1390" y="808" width="2" height="44" fill="#eb4d5c"/><rect x="1406" y="810" width="2" height="42" fill="#eb4d5c"/><rect x="1422" y="826" width="2" height="26" fill="#eb4d5c"/><path d="M1402 734h8v2h-8zM1394 736h8v2h-8zM1410 736h8v2h-8zM1388 738h6v2h-6zM1418 738h6v2h-6zM1384 740h4v2h-4zM362 742h24v2h-24zM1380 742h4v2h-4zM354 744h8v2h-8zM386 744h8v2h-8zM1376 744h4v2h-4zM314 746h40v2h-40zM394 746h6v2h-6zM1372 746h4v2h-4zM306 748h8v2h-8zM400 748h4v2h-4zM1366 748h6v2h-6zM298 750h8v2h-8zM404 750h4v2h-4zM1362 750h4v2h-4zM290 752h8v2h-8zM408 752h4v2h-4zM1354 752h8v2h-8zM286 754h4v2h-4zM412 754h6v2h-6zM1346 754h8v2h-8zM282 756h4v2h-4zM418 756h4v2h-4zM778 756h24v2h-24zM1306 756h40v2h-40zM278 758h4v2h-4zM422 758h6v2h-6zM770 758h8v2h-8zM802 758h4v2h-4zM1298 758h8v2h-8zM276 760h2v2h-2zM428 760h4v2h-4zM764 760h6v2h-6zM806 760h6v2h-6zM1292 760h6v2h-6zM272 762h4v2h-4zM432 762h4v2h-4zM760 762h4v2h-4zM812 762h4v2h-4zM1286 762h6v2h-6zM270 764h2v2h-2zM436 764h4v2h-4zM756 764h4v2h-4zM816 764h4v2h-4zM1282 764h4v2h-4zM268 766h2v2h-2zM440 766h4v2h-4zM752 766h4v2h-4zM820 766h4v2h-4zM1270 766h12v2h-12zM266 768h2v2h-2zM444 768h6v2h-6zM748 768h4v2h-4zM824 768h4v2h-4zM1262 768h8v2h-8zM264 770h2v2h-2zM450 770h8v2h-8zM742 770h6v2h-6zM828 770h4v2h-4zM1260 770h2v2h-2zM262 772h2v2h-2zM458 772h8v2h-8zM738 772h4v2h-4zM832 772h4v2h-4zM1258 772h2v2h-2zM262 774h2v2h-2zM466 774h8v2h-8zM726 774h12v2h-12zM836 774h4v2h-4zM1254 774h4v2h-4zM260 776h2v2h-2zM474 776h8v2h-8zM710 776h16v2h-16zM840 776h4v2h-4zM1252 776h2v2h-2zM258 778h2v2h-2zM482 778h8v2h-8zM668 778h42v2h-42zM844 778h4v2h-4zM1250 778h2v2h-2zM256 780h2v2h-2zM490 780h8v2h-8zM662 780h6v2h-6zM848 780h2v2h-2zM1248 780h2v2h-2zM254 782h2v2h-2zM498 782h8v2h-8zM658 782h4v2h-4zM850 782h2v2h-2zM1246 782h2v2h-2zM250 784h4v2h-4zM506 784h6v2h-6zM654 784h4v2h-4zM852 784h2v2h-2zM1242 784h4v2h-4zM248 786h2v2h-2zM512 786h4v2h-4zM652 786h2v2h-2zM854 786h4v2h-4zM1238 786h4v2h-4zM246 788h2v2h-2zM516 788h4v2h-4zM650 788h2v2h-2zM858 788h2v2h-2zM1236 788h2v2h-2zM242 790h4v2h-4zM520 790h4v2h-4zM550 790h48v2h-48zM646 790h4v2h-4zM860 790h2v2h-2zM1232 790h4v2h-4zM240 792h2v2h-2zM524 792h26v2h-26zM598 792h12v2h-12zM644 792h2v2h-2zM862 792h2v2h-2zM1230 792h2v2h-2zM238 794h2v2h-2zM610 794h4v2h-4zM642 794h2v2h-2zM864 794h2v2h-2zM1228 794h2v2h-2zM234 796h4v2h-4zM614 796h6v2h-6zM640 796h2v2h-2zM866 796h2v2h-2zM1226 796h2v2h-2zM232 798h2v2h-2zM620 798h20v2h-20zM868 798h2v2h-2zM1224 798h2v2h-2zM230 800h2v2h-2zM870 800h2v2h-2zM1222 800h2v2h-2zM226 802h4v2h-4zM872 802h2v2h-2zM1220 802h2v2h-2zM224 804h2v2h-2zM874 804h2v2h-2zM1218 804h2v2h-2zM220 806h4v2h-4zM876 806h2v2h-2zM1216 806h2v2h-2zM216 808h4v2h-4zM878 808h2v2h-2zM1212 808h4v2h-4zM212 810h4v2h-4zM880 810h2v2h-2zM1208 810h4v2h-4zM208 812h4v2h-4zM882 812h4v2h-4zM1204 812h4v2h-4zM204 814h4v2h-4zM886 814h2v2h-2zM1200 814h4v2h-4zM198 816h6v2h-6zM888 816h2v2h-2zM1196 816h4v2h-4zM194 818h4v2h-4zM890 818h4v2h-4zM1190 818h6v2h-6zM190 820h4v2h-4zM894 820h4v2h-4zM970 820h8v2h-8zM1186 820h4v2h-4zM898 822h8v2h-8zM962 822h8v2h-8zM978 822h4v2h-4zM1018 822h12v2h-12zM1158 822h28v2h-28zM906 824h12v2h-12zM950 824h12v2h-12zM982 824h6v2h-6zM1010 824h8v2h-8zM1030 824h16v2h-16zM1148 824h10v2h-10zM918 826h32v2h-32zM988 826h22v2h-22zM1046 826h16v2h-16zM1142 826h6v2h-6zM1062 828h12v2h-12zM1138 828h4v2h-4zM1074 830h4v2h-4zM1130 830h8v2h-8zM1078 832h6v2h-6zM1122 832h8v2h-8zM1084 834h10v2h-10zM1110 834h12v2h-12zM1094 836h16v2h-16z" fill="#f4f4f4"/><path d="M1414 750h10v2h-10zM1404 752h10v2h-10zM390 754h32v2h-32zM1398 754h6v2h-6zM378 756h12v2h-12zM422 756h16v2h-16zM1394 756h4v2h-4zM370 758h8v2h-8zM438 758h12v2h-12zM1388 758h6v2h-6zM364 760h6v2h-6zM450 760h8v2h-8zM1382 760h6v2h-6zM358 762h6v2h-6zM458 762h12v2h-12zM1378 762h4v2h-4zM354 764h4v2h-4zM470 764h12v2h-12zM1370 764h8v2h-8zM346 766h8v2h-8zM482 766h8v2h-8zM806 766h16v2h-16zM1362 766h8v2h-8zM338 768h8v2h-8zM490 768h12v2h-12zM790 768h16v2h-16zM822 768h16v2h-16zM1354 768h8v2h-8zM332 770h6v2h-6zM502 770h12v2h-12zM778 770h12v2h-12zM838 770h12v2h-12zM1346 770h8v2h-8zM326 772h6v2h-6zM514 772h8v2h-8zM770 772h8v2h-8zM850 772h8v2h-8zM1338 772h8v2h-8zM322 774h4v2h-4zM522 774h8v2h-8zM762 774h8v2h-8zM858 774h6v2h-6zM1330 774h8v2h-8zM316 776h6v2h-6zM530 776h8v2h-8zM754 776h8v2h-8zM864 776h4v2h-4zM1322 776h8v2h-8zM310 778h6v2h-6zM538 778h12v2h-12zM742 778h12v2h-12zM868 778h4v2h-4zM1314 778h8v2h-8zM306 780h4v2h-4zM550 780h16v2h-16zM726 780h16v2h-16zM872 780h4v2h-4zM1308 780h6v2h-6zM300 782h6v2h-6zM566 782h16v2h-16zM710 782h16v2h-16zM876 782h6v2h-6zM1304 782h4v2h-4zM296 784h4v2h-4zM582 784h16v2h-16zM694 784h16v2h-16zM882 784h4v2h-4zM1300 784h4v2h-4zM292 786h4v2h-4zM598 786h16v2h-16zM666 786h28v2h-28zM886 786h6v2h-6zM1296 786h4v2h-4zM288 788h4v2h-4zM614 788h16v2h-16zM658 788h8v2h-8zM892 788h4v2h-4zM1292 788h4v2h-4zM286 790h2v2h-2zM630 790h28v2h-28zM896 790h4v2h-4zM1286 790h6v2h-6zM282 792h4v2h-4zM900 792h4v2h-4zM1282 792h4v2h-4zM278 794h4v2h-4zM904 794h4v2h-4zM1276 794h6v2h-6zM276 796h2v2h-2zM908 796h6v2h-6zM1270 796h6v2h-6zM272 798h4v2h-4zM914 798h4v2h-4zM1266 798h4v2h-4zM270 800h2v2h-2zM918 800h6v2h-6zM1260 800h6v2h-6zM266 802h4v2h-4zM924 802h6v2h-6zM1256 802h4v2h-4zM262 804h4v2h-4zM930 804h8v2h-8zM1252 804h4v2h-4zM260 806h2v2h-2zM938 806h8v2h-8zM1248 806h4v2h-4zM256 808h4v2h-4zM946 808h8v2h-8zM1244 808h4v2h-4zM252 810h4v2h-4zM954 810h12v2h-12zM1240 810h4v2h-4zM248 812h4v2h-4zM966 812h16v2h-16zM1236 812h4v2h-4zM244 814h4v2h-4zM982 814h12v2h-12zM1232 814h4v2h-4zM240 816h4v2h-4zM994 816h8v2h-8zM1226 816h6v2h-6zM236 818h4v2h-4zM1002 818h28v2h-28zM1218 818h8v2h-8zM230 820h6v2h-6zM1030 820h32v2h-32zM1210 820h8v2h-8zM226 822h4v2h-4zM1062 822h16v2h-16zM1202 822h8v2h-8zM218 824h8v2h-8zM1078 824h16v2h-16zM1190 824h12v2h-12zM210 826h8v2h-8zM1094 826h16v2h-16zM1158 826h32v2h-32zM202 828h8v2h-8zM1110 828h48v2h-48zM194 830h8v2h-8zM190 832h4v2h-4z" fill="#f0f020"/><path d="M1388 956h6v2h-6zM1260 958h4v2h-4zM1384 958h4v2h-4zM1394 958h4v2h-4zM270 960h2v2h-2zM1254 960h6v2h-6zM1262 960h2v2h-2zM1380 960h4v2h-4zM1398 960h6v2h-6zM268 962h2v2h-2zM272 962h2v2h-2zM1250 962h4v2h-4zM1264 962h2v2h-2zM1376 962h4v2h-4zM1404 962h4v2h-4zM266 964h2v2h-2zM274 964h2v2h-2zM1244 964h6v2h-6zM1264 964h2v2h-2zM1374 964h2v2h-2zM1406 964h2v2h-2zM264 966h2v2h-2zM276 966h2v2h-2zM366 966h2v2h-2zM1238 966h6v2h-6zM1266 966h2v2h-2zM1372 966h2v2h-2zM1408 966h2v2h-2zM262 968h2v2h-2zM278 968h4v2h-4zM364 968h2v2h-2zM368 968h2v2h-2zM764 968h10v2h-10zM1234 968h4v2h-4zM1266 968h2v2h-2zM1370 968h2v2h-2zM1408 968h2v2h-2zM262 970h2v2h-2zM282 970h2v2h-2zM364 970h2v2h-2zM368 970h2v2h-2zM760 970h4v2h-4zM774 970h10v2h-10zM1230 970h4v2h-4zM1268 970h2v2h-2zM1368 970h2v2h-2zM1410 970h2v2h-2zM260 972h2v2h-2zM284 972h2v2h-2zM362 972h2v2h-2zM370 972h2v2h-2zM756 972h4v2h-4zM784 972h2v2h-2zM1230 972h2v2h-2zM1268 972h2v2h-2zM1366 972h2v2h-2zM1410 972h2v2h-2zM258 974h2v2h-2zM286 974h2v2h-2zM360 974h2v2h-2zM370 974h2v2h-2zM654 974h2v2h-2zM752 974h4v2h-4zM786 974h2v2h-2zM1228 974h2v2h-2zM1270 974h2v2h-2zM1308 974h4v2h-4zM1366 974h2v2h-2zM1410 974h2v2h-2zM256 976h2v2h-2zM288 976h2v2h-2zM360 976h2v2h-2zM372 976h2v2h-2zM654 976h4v2h-4zM750 976h2v2h-2zM788 976h2v2h-2zM1228 976h2v2h-2zM1270 976h2v2h-2zM1304 976h4v2h-4zM1312 976h2v2h-2zM1364 976h2v2h-2zM1412 976h2v2h-2zM252 978h4v2h-4zM290 978h2v2h-2zM358 978h2v2h-2zM374 978h2v2h-2zM652 978h2v2h-2zM658 978h2v2h-2zM748 978h2v2h-2zM790 978h4v2h-4zM1226 978h2v2h-2zM1270 978h2v2h-2zM1300 978h4v2h-4zM1312 978h2v2h-2zM1362 978h2v2h-2zM1412 978h2v2h-2zM246 980h6v2h-6zM292 980h2v2h-2zM356 980h2v2h-2zM374 980h2v2h-2zM652 980h2v2h-2zM660 980h2v2h-2zM748 980h2v2h-2zM794 980h2v2h-2zM1226 980h2v2h-2zM1272 980h2v2h-2zM1296 980h4v2h-4zM1314 980h2v2h-2zM1360 980h2v2h-2zM1412 980h2v2h-2zM242 982h4v2h-4zM294 982h4v2h-4zM356 982h2v2h-2zM376 982h2v2h-2zM650 982h2v2h-2zM662 982h2v2h-2zM746 982h2v2h-2zM796 982h2v2h-2zM1224 982h2v2h-2zM1272 982h2v2h-2zM1294 982h2v2h-2zM1314 982h2v2h-2zM1358 982h2v2h-2zM1414 982h2v2h-2zM238 984h4v2h-4zM298 984h2v2h-2zM354 984h2v2h-2zM378 984h2v2h-2zM650 984h2v2h-2zM662 984h2v2h-2zM744 984h2v2h-2zM798 984h2v2h-2zM1224 984h2v2h-2zM1274 984h2v2h-2zM1290 984h4v2h-4zM1316 984h2v2h-2zM1356 984h2v2h-2zM1414 984h2v2h-2zM238 986h2v2h-2zM300 986h2v2h-2zM310 986h16v2h-16zM352 986h2v2h-2zM378 986h2v2h-2zM650 986h2v2h-2zM664 986h2v2h-2zM744 986h2v2h-2zM798 986h2v2h-2zM1222 986h2v2h-2zM1274 986h2v2h-2zM1288 986h2v2h-2zM1316 986h2v2h-2zM1354 986h2v2h-2zM1416 986h2v2h-2zM236 988h2v2h-2zM302 988h8v2h-8zM326 988h16v2h-16zM352 988h2v2h-2zM380 988h2v2h-2zM648 988h2v2h-2zM666 988h2v2h-2zM742 988h2v2h-2zM800 988h2v2h-2zM1222 988h2v2h-2zM1276 988h2v2h-2zM1286 988h2v2h-2zM1318 988h2v2h-2zM1350 988h4v2h-4zM1416 988h2v2h-2zM236 990h2v2h-2zM342 990h10v2h-10zM380 990h2v2h-2zM648 990h2v2h-2zM668 990h2v2h-2zM740 990h2v2h-2zM800 990h2v2h-2zM1220 990h2v2h-2zM1276 990h2v2h-2zM1282 990h4v2h-4zM1318 990h2v2h-2zM1348 990h2v2h-2zM1416 990h2v2h-2zM234 992h2v2h-2zM382 992h2v2h-2zM646 992h2v2h-2zM670 992h2v2h-2zM740 992h2v2h-2zM800 992h2v2h-2zM1220 992h2v2h-2zM1278 992h4v2h-4zM1320 992h2v2h-2zM1346 992h2v2h-2zM1418 992h2v2h-2zM234 994h2v2h-2zM384 994h2v2h-2zM646 994h2v2h-2zM672 994h2v2h-2zM738 994h2v2h-2zM800 994h2v2h-2zM1218 994h2v2h-2zM1278 994h2v2h-2zM1320 994h2v2h-2zM1344 994h2v2h-2zM1418 994h2v2h-2zM232 996h2v2h-2zM384 996h2v2h-2zM646 996h2v2h-2zM672 996h2v2h-2zM736 996h2v2h-2zM802 996h2v2h-2zM1218 996h2v2h-2zM1322 996h2v2h-2zM1340 996h4v2h-4zM1418 996h2v2h-2zM232 998h2v2h-2zM386 998h2v2h-2zM644 998h2v2h-2zM674 998h2v2h-2zM736 998h2v2h-2zM802 998h2v2h-2zM1216 998h2v2h-2zM1322 998h2v2h-2zM1336 998h4v2h-4zM1420 998h2v2h-2zM230 1000h2v2h-2zM388 1000h2v2h-2zM644 1000h2v2h-2zM674 1000h2v2h-2zM726 1000h10v2h-10zM802 1000h2v2h-2zM1216 1000h2v2h-2zM1324 1000h2v2h-2zM1332 1000h4v2h-4zM1420 1000h2v2h-2zM230 1002h2v2h-2zM390 1002h2v2h-2zM642 1002h2v2h-2zM676 1002h2v2h-2zM716 1002h10v2h-10zM804 1002h2v2h-2zM1214 1002h2v2h-2zM1324 1002h2v2h-2zM1328 1002h4v2h-4zM1422 1002h2v2h-2zM228 1004h2v2h-2zM390 1004h2v2h-2zM642 1004h2v2h-2zM678 1004h2v2h-2zM712 1004h4v2h-4zM804 1004h2v2h-2zM1212 1004h2v2h-2zM1326 1004h2v2h-2zM1422 1004h2v2h-2zM190 1006h2v2h-2zM228 1006h2v2h-2zM392 1006h2v2h-2zM642 1006h2v2h-2zM678 1006h2v2h-2zM708 1006h4v2h-4zM804 1006h2v2h-2zM1212 1006h2v2h-2zM192 1008h2v2h-2zM226 1008h2v2h-2zM394 1008h2v2h-2zM640 1008h2v2h-2zM680 1008h2v2h-2zM704 1008h4v2h-4zM804 1008h2v2h-2zM1210 1008h2v2h-2zM194 1010h4v2h-4zM226 1010h2v2h-2zM396 1010h2v2h-2zM640 1010h2v2h-2zM682 1010h2v2h-2zM700 1010h4v2h-4zM806 1010h2v2h-2zM1208 1010h2v2h-2zM198 1012h2v2h-2zM224 1012h2v2h-2zM396 1012h2v2h-2zM478 1012h2v2h-2zM570 1012h6v2h-6zM638 1012h2v2h-2zM682 1012h2v2h-2zM696 1012h4v2h-4zM806 1012h2v2h-2zM1206 1012h2v2h-2zM200 1014h2v2h-2zM224 1014h2v2h-2zM398 1014h2v2h-2zM474 1014h6v2h-6zM562 1014h8v2h-8zM576 1014h4v2h-4zM638 1014h2v2h-2zM684 1014h2v2h-2zM692 1014h4v2h-4zM806 1014h2v2h-2zM1206 1014h2v2h-2zM202 1016h4v2h-4zM222 1016h2v2h-2zM400 1016h2v2h-2zM472 1016h2v2h-2zM480 1016h2v2h-2zM556 1016h6v2h-6zM580 1016h2v2h-2zM638 1016h2v2h-2zM684 1016h2v2h-2zM688 1016h4v2h-4zM808 1016h2v2h-2zM1204 1016h2v2h-2zM206 1018h18v2h-18zM402 1018h2v2h-2zM470 1018h2v2h-2zM480 1018h2v2h-2zM552 1018h4v2h-4zM582 1018h4v2h-4zM636 1018h2v2h-2zM686 1018h2v2h-2zM808 1018h2v2h-2zM1202 1018h2v2h-2zM402 1020h2v2h-2zM466 1020h4v2h-4zM482 1020h2v2h-2zM548 1020h4v2h-4zM586 1020h4v2h-4zM636 1020h2v2h-2zM808 1020h2v2h-2zM1200 1020h2v2h-2zM404 1022h2v2h-2zM464 1022h2v2h-2zM482 1022h2v2h-2zM544 1022h4v2h-4zM590 1022h8v2h-8zM634 1022h2v2h-2zM808 1022h2v2h-2zM1200 1022h2v2h-2zM406 1024h2v2h-2zM462 1024h2v2h-2zM484 1024h2v2h-2zM542 1024h2v2h-2zM598 1024h10v2h-10zM634 1024h2v2h-2zM810 1024h2v2h-2zM1198 1024h2v2h-2zM408 1026h2v2h-2zM460 1026h2v2h-2zM484 1026h2v2h-2zM540 1026h2v2h-2zM608 1026h2v2h-2zM632 1026h2v2h-2zM810 1026h2v2h-2zM1134 1026h2v2h-2zM1196 1026h2v2h-2zM410 1028h2v2h-2zM458 1028h2v2h-2zM484 1028h2v2h-2zM540 1028h2v2h-2zM608 1028h2v2h-2zM632 1028h2v2h-2zM810 1028h2v2h-2zM1134 1028h4v2h-4zM1194 1028h2v2h-2zM410 1030h2v2h-2zM426 1030h6v2h-6zM456 1030h2v2h-2zM486 1030h2v2h-2zM538 1030h2v2h-2zM610 1030h2v2h-2zM630 1030h2v2h-2zM812 1030h2v2h-2zM1132 1030h2v2h-2zM1138 1030h2v2h-2zM1194 1030h2v2h-2zM412 1032h2v2h-2zM418 1032h8v2h-8zM432 1032h2v2h-2zM454 1032h2v2h-2zM486 1032h2v2h-2zM538 1032h2v2h-2zM610 1032h2v2h-2zM630 1032h2v2h-2zM812 1032h2v2h-2zM1132 1032h2v2h-2zM1140 1032h2v2h-2zM1192 1032h2v2h-2zM414 1034h4v2h-4zM434 1034h4v2h-4zM454 1034h2v2h-2zM488 1034h2v2h-2zM536 1034h2v2h-2zM612 1034h2v2h-2zM630 1034h2v2h-2zM812 1034h2v2h-2zM1130 1034h2v2h-2zM1142 1034h2v2h-2zM1190 1034h2v2h-2zM438 1036h2v2h-2zM452 1036h2v2h-2zM488 1036h2v2h-2zM534 1036h2v2h-2zM614 1036h2v2h-2zM628 1036h2v2h-2zM812 1036h2v2h-2zM970 1036h6v2h-6zM1022 1036h2v2h-2zM1130 1036h2v2h-2zM1142 1036h2v2h-2zM1188 1036h2v2h-2zM440 1038h2v2h-2zM450 1038h2v2h-2zM488 1038h2v2h-2zM534 1038h2v2h-2zM614 1038h2v2h-2zM628 1038h2v2h-2zM814 1038h2v2h-2zM962 1038h8v2h-8zM974 1038h2v2h-2zM1020 1038h2v2h-2zM1024 1038h2v2h-2zM1128 1038h2v2h-2zM1144 1038h2v2h-2zM1186 1038h2v2h-2zM442 1040h4v2h-4zM448 1040h2v2h-2zM490 1040h2v2h-2zM532 1040h2v2h-2zM616 1040h2v2h-2zM626 1040h2v2h-2zM814 1040h8v2h-8zM838 1040h10v2h-10zM958 1040h4v2h-4zM976 1040h2v2h-2zM1020 1040h2v2h-2zM1024 1040h2v2h-2zM1128 1040h2v2h-2zM1146 1040h2v2h-2zM1186 1040h2v2h-2zM446 1042h2v2h-2zM490 1042h2v2h-2zM530 1042h2v2h-2zM618 1042h2v2h-2zM626 1042h2v2h-2zM822 1042h16v2h-16zM846 1042h2v2h-2zM956 1042h2v2h-2zM976 1042h2v2h-2zM1018 1042h2v2h-2zM1026 1042h2v2h-2zM1126 1042h2v2h-2zM1148 1042h2v2h-2zM1158 1042h16v2h-16zM1184 1042h2v2h-2zM492 1044h2v2h-2zM508 1044h6v2h-6zM530 1044h2v2h-2zM618 1044h2v2h-2zM624 1044h2v2h-2zM848 1044h2v2h-2zM954 1044h2v2h-2zM978 1044h2v2h-2zM1018 1044h2v2h-2zM1026 1044h2v2h-2zM1126 1044h2v2h-2zM1150 1044h8v2h-8zM1174 1044h10v2h-10zM492 1046h2v2h-2zM502 1046h6v2h-6zM514 1046h4v2h-4zM528 1046h2v2h-2zM620 1046h2v2h-2zM624 1046h2v2h-2zM848 1046h2v2h-2zM952 1046h2v2h-2zM978 1046h2v2h-2zM1016 1046h2v2h-2zM1028 1046h2v2h-2zM1124 1046h2v2h-2zM494 1048h2v2h-2zM498 1048h4v2h-4zM518 1048h6v2h-6zM528 1048h2v2h-2zM620 1048h4v2h-4zM848 1048h2v2h-2zM950 1048h2v2h-2zM978 1048h2v2h-2zM1014 1048h2v2h-2zM1030 1048h2v2h-2zM1124 1048h2v2h-2zM494 1050h4v2h-4zM524 1050h4v2h-4zM622 1050h2v2h-2zM848 1050h2v2h-2zM950 1050h2v2h-2zM980 1050h2v2h-2zM1014 1050h2v2h-2zM1030 1050h2v2h-2zM1122 1050h2v2h-2zM850 1052h2v2h-2zM948 1052h2v2h-2zM980 1052h2v2h-2zM1012 1052h2v2h-2zM1032 1052h2v2h-2zM1122 1052h2v2h-2zM850 1054h2v2h-2zM946 1054h2v2h-2zM982 1054h2v2h-2zM1010 1054h2v2h-2zM1034 1054h2v2h-2zM1120 1054h2v2h-2zM850 1056h2v2h-2zM944 1056h2v2h-2zM982 1056h2v2h-2zM1010 1056h2v2h-2zM1034 1056h2v2h-2zM1120 1056h2v2h-2zM852 1058h2v2h-2zM934 1058h10v2h-10zM982 1058h2v2h-2zM1008 1058h2v2h-2zM1036 1058h2v2h-2zM1118 1058h2v2h-2zM852 1060h2v2h-2zM926 1060h8v2h-8zM984 1060h2v2h-2zM1008 1060h2v2h-2zM1036 1060h2v2h-2zM1116 1060h4v2h-4zM852 1062h2v2h-2zM924 1062h2v2h-2zM984 1062h2v2h-2zM1006 1062h2v2h-2zM1038 1062h34v2h-34zM1110 1062h6v2h-6zM854 1064h2v2h-2zM922 1064h2v2h-2zM986 1064h2v2h-2zM1004 1064h2v2h-2zM1072 1064h2v2h-2zM1106 1064h4v2h-4zM854 1066h2v2h-2zM920 1066h2v2h-2zM986 1066h2v2h-2zM1002 1066h2v2h-2zM1072 1066h2v2h-2zM1102 1066h4v2h-4zM854 1068h2v2h-2zM918 1068h2v2h-2zM986 1068h2v2h-2zM998 1068h4v2h-4zM1074 1068h2v2h-2zM1100 1068h2v2h-2zM854 1070h2v2h-2zM918 1070h2v2h-2zM988 1070h2v2h-2zM996 1070h2v2h-2zM1074 1070h2v2h-2zM1100 1070h2v2h-2zM856 1072h2v2h-2zM916 1072h2v2h-2zM988 1072h2v2h-2zM994 1072h2v2h-2zM1076 1072h2v2h-2zM1098 1072h2v2h-2zM856 1074h2v2h-2zM914 1074h2v2h-2zM990 1074h4v2h-4zM1076 1074h2v2h-2zM1098 1074h2v2h-2zM856 1076h2v2h-2zM912 1076h2v2h-2zM990 1076h2v2h-2zM1078 1076h2v2h-2zM1096 1076h2v2h-2zM858 1078h2v2h-2zM910 1078h2v2h-2zM1078 1078h2v2h-2zM1096 1078h2v2h-2zM858 1080h2v2h-2zM908 1080h2v2h-2zM1080 1080h2v2h-2zM1094 1080h2v2h-2zM858 1082h2v2h-2zM906 1082h2v2h-2zM1080 1082h2v2h-2zM1092 1082h2v2h-2zM860 1084h2v2h-2zM904 1084h2v2h-2zM1082 1084h2v2h-2zM1092 1084h2v2h-2zM860 1086h2v2h-2zM902 1086h2v2h-2zM1082 1086h2v2h-2zM1090 1086h2v2h-2zM860 1088h2v2h-2zM902 1088h2v2h-2zM1084 1088h2v2h-2zM1090 1088h2v2h-2zM860 1090h2v2h-2zM900 1090h2v2h-2zM1084 1090h2v2h-2zM1088 1090h2v2h-2zM862 1092h2v2h-2zM898 1092h2v2h-2zM1086 1092h4v2h-4zM862 1094h2v2h-2zM896 1094h2v2h-2zM1086 1094h2v2h-2zM864 1096h2v2h-2zM894 1096h2v2h-2zM866 1098h2v2h-2zM892 1098h2v2h-2zM868 1100h2v2h-2zM890 1100h2v2h-2zM870 1102h2v2h-2zM886 1102h4v2h-4zM872 1104h2v2h-2zM884 1104h2v2h-2zM874 1106h2v2h-2zM882 1106h2v2h-2zM876 1108h2v2h-2zM880 1108h2v2h-2zM878 1110h2v2h-2z" fill="#e61ee6"/><text x="175.6" y="50" fill="#f2f2f2" font-size="25.6" font-family="'Liberation Sans', 'Noto Sans CJK SC', sans-serif" text-anchor="end" font-weight="normal" >44.152</text><text x="1495.5" y="50" fill="#f2f2f2" font-size="25.6" font-family="'Liberation Sans', 'Noto Sans CJK SC', sans-serif" text-anchor="start" font-weight="normal" >44.152</text><text x="175.6" y="158" fill="#f2f2f2" font-size="25.6" font-family="'Liberation Sans', 'Noto Sans CJK SC', sans-serif" text-anchor="end" font-weight="normal" >41.934</text><text x="1495.5" y="158" fill="#f2f2f2" font-size="25.6" font-family="'Liberation Sans', 'Noto Sans CJK SC', sans-serif" text-anchor="start" font-weight="normal" >41.934</text><text x="175.6" y="266" fill="#f2f2f2" font-size="25.6" font-family="'Liberation Sans', 'Noto Sans CJK SC', sans-serif" text-anchor="end" font-weight="normal" >39.716</text><text x="1495.5" y="266" fill="#f2f2f2" font-size="25.6" font-family="'Liberation Sans', 'Noto Sans CJK SC', sans-serif" text-anchor="start" font-weight="normal" >39.716</text><text x="175.6" y="374" fill="#f2f2f2" font-size="25.6" font-family="'Liberation Sans', 'Noto Sans CJK SC', sans-serif" text-anchor="end" font-weight="normal" >37.498</text><text x="1495.5" y="374" fill="#f2f2f2" font-size="25.6" font-family="'Liberation Sans', 'Noto Sans CJK SC', sans-serif" text-anchor="start" font-weight="normal" >37.498</text><text x="175.6" y="482" fill="#f2f2f2" font-size="25.6" font-family="'Liberation Sans', 'Noto Sans CJK SC', sans-serif" text-anchor="end" font-weight="normal" >35.280</text><text x="1495.5" y="482" fill="#f2f2f2" font-size="25.6" font-family="'Liberation Sans', 'Noto Sans CJK SC', sans-serif" text-anchor="start" font-weight="normal" >35.280</text><text x="175.6" y="590" fill="#f2f2f2" font-size="25.6" font-family="'Liberation Sans', 'Noto Sans CJK SC', sans-serif" text-anchor="end" font-weight="normal" >33.062</text><text x="1495.5" y="590" fill="#f2f2f2" font-size="25.6" font-family="'Liberation Sans', 'Noto Sans CJK SC', sans-serif" text-anchor="start" font-weight="normal" >33.062</text><text x="175.6" y="740" fill="#f2f2f2" font-size="25.6" font-family="'Liberation Sans', 'Noto Sans CJK SC', sans-serif" text-anchor="end" font-weight="normal" >1.095</text><text x="1495.5" y="740" fill="#f2f2f2" font-size="25.6" font-family="'Liberation Sans', 'Noto Sans CJK SC', sans-serif" text-anchor="start" font-weight="normal" >1.095</text><text x="175.6" y="798" fill="#f2f2f2" font-size="25.6" font-family="'Liberation Sans', 'Noto Sans CJK SC', sans-serif" text-anchor="end" font-weight="normal" >0.542</text><text x="1495.5" y="798" fill="#f2f2f2" font-size="25.6" font-family="'Liberation Sans', 'Noto Sans CJK SC', sans-serif" text-anchor="start" font-weight="normal" >0.542</text><text x="175.6" y="858" fill="#f2f2f2" font-size="25.6" font-family="'Liberation Sans', 'Noto Sans CJK SC', sans-serif" text-anchor="end" font-weight="normal" >-0.012</text><text x="1495.5" y="858" fill="#f2f2f2" font-size="25.6" font-family="'Liberation Sans', 'Noto Sans CJK SC', sans-serif" text-anchor="start" font-weight="normal" >-0.012</text><text x="175.6" y="962" fill="#f2f2f2" font-size="25.6" font-family="'Liberation Sans', 'Noto Sans CJK SC', sans-serif" text-anchor="end" font-weight="normal" >75.047</text><text x="1495.5" y="962" fill="#f2f2f2" font-size="25.6" font-family="'Liberation Sans', 'Noto Sans CJK SC', sans-serif" text-anchor="start" font-weight="normal" >75.047</text><text x="175.6" y="1014" fill="#f2f2f2" font-size="25.6" font-family="'Liberation Sans', 'Noto Sans CJK SC', sans-serif" text-anchor="end" font-weight="normal" >64.267</text><text x="1495.5" y="1014" fill="#f2f2f2" font-size="25.6" font-family="'Liberation Sans', 'Noto Sans CJK SC', sans-serif" text-anchor="start" font-weight="normal" >64.267</text><text x="175.6" y="1066" fill="#f2f2f2" font-size="25.6" font-family="'Liberation Sans', 'Noto Sans CJK SC', sans-serif" text-anchor="end" font-weight="normal" >53.486</text><text x="1495.5" y="1066" fill="#f2f2f2" font-size="25.6" font-family="'Liberation Sans', 'Noto Sans CJK SC', sans-serif" text-anchor="start" font-weight="normal" >53.486</text><rect x="1490" y="156" width="138" height="36" fill="#f4a13c"/><rect x="1492" y="158" width="134" height="32" fill="#000"/><rect x="1610" y="140" width="16" height="16" fill="#080808"/><path fill="#f4a13c" d="M1616 140h4v2h-4zM1614 142h8v2h-8zM1612 144h12v2h-12zM1610 146h16v2h-16zM1616 148h4v2h-4zM1614 150h8v2h-8zM1612 152h12v2h-12zM1610 154h16v2h-16z"/><text x="1497" y="182" fill="#f4a13c" font-size="25.6" font-family="'Liberation Sans', 'Noto Sans CJK SC', sans-serif" text-anchor="start" font-weight="normal" >41.822</text><text x="790" y="265" fill="#eb4d5c" font-size="26" font-family="'Liberation Sans', 'Noto Sans CJK SC', sans-serif" text-anchor="start" font-weight="normal" >39.504</text><text x="1419" y="96" fill="#eb4d5c" font-size="25.6" font-family="'Liberation Sans', 'Noto Sans CJK SC', sans-serif" text-anchor="start" font-weight="normal" textLength="75.2" lengthAdjust="spacingAndGlyphs" >42.950</text><text x="198.5" y="614" fill="#52b98a" font-size="25.6" font-family="'Liberation Sans', 'Noto Sans CJK SC', sans-serif" text-anchor="start" font-weight="normal" >32.935</text><text x="183" y="28" fill="#ececec" font-size="24" font-family="'Liberation Sans', 'Noto Sans CJK SC', 'WenQuanYi Zen Hei', sans-serif" text-anchor="start" font-weight="normal" textLength="24" lengthAdjust="spacingAndGlyphs" >现</text><text x="207" y="28" fill="#ececec" font-size="24" font-family="'Liberation Sans', 'Noto Sans CJK SC', 'WenQuanYi Zen Hei', sans-serif" text-anchor="start" font-weight="normal" textLength="24" lengthAdjust="spacingAndGlyphs" >货</text><text x="232" y="28" fill="#ececec" font-size="24" font-family="'Liberation Sans', 'Noto Sans CJK SC', 'WenQuanYi Zen Hei', sans-serif" text-anchor="start" font-weight="normal" textLength="24" lengthAdjust="spacingAndGlyphs" >白</text><text x="256" y="28" fill="#ececec" font-size="24" font-family="'Liberation Sans', 'Noto Sans CJK SC', 'WenQuanYi Zen Hei', sans-serif" text-anchor="start" font-weight="normal" textLength="24" lengthAdjust="spacingAndGlyphs" >银</text><text x="267.7" y="31" fill="#ff7800" font-size="25" font-family="'Liberation Sans', 'Noto Sans CJK SC', 'WenQuanYi Zen Hei', sans-serif" text-anchor="start" font-weight="normal" textLength="35.7" lengthAdjust="spacingAndGlyphs" >【</text><text x="352.6" y="31" fill="#ff7800" font-size="25" font-family="'Liberation Sans', 'Noto Sans CJK SC', 'WenQuanYi Zen Hei', sans-serif" text-anchor="start" font-weight="normal" textLength="35.7" lengthAdjust="spacingAndGlyphs" >】</text><text x="306" y="28" fill="#ff7800" font-size="24" font-family="'Liberation Sans', 'Noto Sans CJK SC', 'WenQuanYi Zen Hei', sans-serif" text-anchor="start" font-weight="normal" textLength="22" lengthAdjust="spacingAndGlyphs" >日</text><text x="329" y="28" fill="#ff7800" font-size="24" font-family="'Liberation Sans', 'Noto Sans CJK SC', 'WenQuanYi Zen Hei', sans-serif" text-anchor="start" font-weight="normal" textLength="24" lengthAdjust="spacingAndGlyphs" >线</text><text x="375.6" y="31" fill="#ff7800" font-size="26.5" font-family="'DejaVu Sans', sans-serif" text-anchor="start" font-weight="normal" >⊕</text><rect x="412" y="4" width="24" height="26" fill="#8c8c8c"/><rect x="410" y="2" width="24" height="26" fill="#000080"/><rect x="412" y="4" width="20" height="22" fill="#ffffff"/><path fill="#ff0000" d="M412 16h2v2h-2zM414 14h2v2h-2zM416 12h2v2h-2zM418 8h2v2h-2zM418 10h2v2h-2zM420 10h2v2h-2zM422 12h2v2h-2zM424 14h2v2h-2zM426 12h2v2h-2zM428 10h2v2h-2zM430 10h2v2h-2z"/><path fill="#0000ff" d="M412 22h2v2h-2zM414 20h2v2h-2zM416 18h2v2h-2zM418 14h2v2h-2zM418 16h2v2h-2zM420 16h2v2h-2zM422 18h2v2h-2zM424 20h2v2h-2zM426 18h2v2h-2zM428 16h2v2h-2zM430 16h2v2h-2z"/><text x="440" y="28" fill="#eeeeee" font-size="26" font-family="'Liberation Sans', 'Noto Sans CJK SC', sans-serif" text-anchor="start" font-weight="normal" textLength="263.5" lengthAdjust="spacingAndGlyphs" >BOLL(26,2) MID:39.899</text><text x="720.5" y="28" fill="#d9d926" font-size="26" font-family="'Liberation Sans', 'Noto Sans CJK SC', sans-serif" text-anchor="start" font-weight="normal" textLength="157" lengthAdjust="spacingAndGlyphs" >UPPER:43.228</text><text x="894" y="28" fill="#d72ed8" font-size="26" font-family="'Liberation Sans', 'Noto Sans CJK SC', sans-serif" text-anchor="start" font-weight="normal" textLength="166" lengthAdjust="spacingAndGlyphs" >LOWER:36.571</text><path fill="#000000" d="M1078 4h4v2h-4zM1076 6h2v2h-2zM1082 6h2v2h-2zM1074 8h2v2h-2zM1084 8h2v2h-2zM1072 10h2v2h-2zM1086 10h2v2h-2zM1070 12h2v4h-2zM1088 12h2v4h-2zM1070 14h6v2h-6zM1084 14h6v2h-6zM1076 14h2v12h-2zM1082 14h2v12h-2zM1076 24h8v2h-8z"/><path fill="#d4e2e2" d="M1076 2h4v2h-4zM1074 4h2v2h-2zM1080 4h2v2h-2zM1072 6h2v2h-2zM1082 6h2v2h-2zM1070 8h2v2h-2zM1084 8h2v2h-2zM1068 10h2v4h-2zM1086 10h2v4h-2zM1068 12h6v2h-6zM1082 12h6v2h-6zM1074 12h2v12h-2zM1080 12h2v12h-2zM1074 22h8v2h-8z"/><path fill="#ff0000" d="M1076 4h4v18h-4zM1074 6h8v2h-8zM1072 8h12v2h-12zM1070 10h16v2h-16z"/><text x="1099" y="28" fill="#eeeeee" font-size="26" font-family="'Liberation Sans', 'Noto Sans CJK SC', sans-serif" text-anchor="start" font-weight="normal" textLength="31" lengthAdjust="spacingAndGlyphs" >VR</text><text x="183.5" y="718" fill="#eeeeee" font-size="26" font-family="'Liberation Sans', 'Noto Sans CJK SC', sans-serif" text-anchor="start" font-weight="normal" textLength="298" lengthAdjust="spacingAndGlyphs" >MACD(26,12,9) DIFF:1.056</text><text x="498.5" y="718" fill="#d9d926" font-size="26" font-family="'Liberation Sans', 'Noto Sans CJK SC', sans-serif" text-anchor="start" font-weight="normal" textLength="116" lengthAdjust="spacingAndGlyphs" >DEA:0.938</text><text x="629.5" y="718" fill="#d72ed8" font-size="26" font-family="'Liberation Sans', 'Noto Sans CJK SC', sans-serif" text-anchor="start" font-weight="normal" textLength="145" lengthAdjust="spacingAndGlyphs" >MACD:0.236</text><text x="183.5" y="940" fill="#eeeeee" font-size="26" font-family="'Liberation Sans', 'Noto Sans CJK SC', sans-serif" text-anchor="start" font-weight="normal" textLength="292" lengthAdjust="spacingAndGlyphs" >RSI(14,14,14) RSI1:64.470</text><text x="491" y="940" fill="#d9d926" font-size="26" font-family="'Liberation Sans', 'Noto Sans CJK SC', sans-serif" text-anchor="start" font-weight="normal" textLength="135.5" lengthAdjust="spacingAndGlyphs" >RSI2:64.470</text><text x="640" y="940" fill="#d72ed8" font-size="26" font-family="'Liberation Sans', 'Noto Sans CJK SC', sans-serif" text-anchor="start" font-weight="normal" textLength="136" lengthAdjust="spacingAndGlyphs" >RSI3:64.470</text><g shape-rendering="geometricPrecision"><circle cx="58" cy="925" r="7.5" fill="#000"/><circle cx="58" cy="925" r="6" fill="#fff"/><circle cx="58" cy="925" r="3.6" fill="#ff0000"/><g stroke="#ff0000" stroke-width="2"><line x1="58" y1="912" x2="58" y2="916"/><line x1="58" y1="934" x2="58" y2="938"/><line x1="44" y1="925" x2="48" y2="925"/><line x1="68" y1="925" x2="72" y2="925"/><line x1="47" y1="914" x2="50" y2="917"/><line x1="69" y1="914" x2="66" y2="917"/><line x1="47" y1="936" x2="50" y2="933"/><line x1="69" y1="936" x2="66" y2="933"/></g></g><text x="194" y="1138" fill="#ffffff" font-size="26" font-family="'Liberation Sans', 'Noto Sans CJK SC', sans-serif" text-anchor="start" font-weight="normal" textLength="89.5" lengthAdjust="spacingAndGlyphs" stroke="#ffffff" stroke-width="0.8">2025/06</text><text x="530" y="1138" fill="#ffffff" font-size="26" font-family="'Liberation Sans', 'Noto Sans CJK SC', sans-serif" text-anchor="start" font-weight="normal" textLength="89.5" lengthAdjust="spacingAndGlyphs" stroke="#ffffff" stroke-width="0.8">2025/07</text><text x="898" y="1138" fill="#ffffff" font-size="26" font-family="'Liberation Sans', 'Noto Sans CJK SC', sans-serif" text-anchor="start" font-weight="normal" textLength="89.5" lengthAdjust="spacingAndGlyphs" stroke="#ffffff" stroke-width="0.8">2025/08</text><text x="1234" y="1138" fill="#ffffff" font-size="26" font-family="'Liberation Sans', 'Noto Sans CJK SC', sans-serif" text-anchor="start" font-weight="normal" textLength="89.5" lengthAdjust="spacingAndGlyphs" stroke="#ffffff" stroke-width="0.8">2025/09</text><text x="66" y="1142.5" fill="#ff7000" font-size="25" font-family="'Liberation Sans', 'Noto Sans CJK SC', 'WenQuanYi Zen Hei', sans-serif" text-anchor="start" font-weight="bold" textLength="53" lengthAdjust="spacingAndGlyphs" >日线</text><text x="123.6" y="1143" fill="#ff7000" font-size="29" font-family="'Liberation Sans', 'Noto Sans CJK SC', sans-serif" text-anchor="start" font-weight="normal" >▲</text><text x="19.5" y="34.3" fill="#c4c4c4" font-size="25" font-family="'Liberation Sans', 'WenQuanYi Zen Hei', 'Noto Sans CJK SC', sans-serif" text-anchor="middle" font-weight="normal" >分</text><text x="19.5" y="62.3" fill="#c4c4c4" font-size="25" font-family="'Liberation Sans', 'WenQuanYi Zen Hei', 'Noto Sans CJK SC', sans-serif" text-anchor="middle" font-weight="normal" >时</text><text x="19.5" y="90.3" fill="#c4c4c4" font-size="25" font-family="'Liberation Sans', 'WenQuanYi Zen Hei', 'Noto Sans CJK SC', sans-serif" text-anchor="middle" font-weight="normal" >图</text><text x="14" y="131.5" fill="#ffffff" font-size="22" font-family="'Liberation Serif', serif" text-anchor="start" font-weight="bold" textLength="12.5" lengthAdjust="spacingAndGlyphs" >K</text><text x="19.5" y="160.3" fill="#ffffff" font-size="25" font-family="'Liberation Sans', 'WenQuanYi Zen Hei', 'Noto Sans CJK SC', sans-serif" text-anchor="middle" font-weight="normal" >线</text><text x="19.5" y="188.3" fill="#ffffff" font-size="25" font-family="'Liberation Sans', 'WenQuanYi Zen Hei', 'Noto Sans CJK SC', sans-serif" text-anchor="middle" font-weight="normal" >图</text><text x="19.5" y="230.3" fill="#c4c4c4" font-size="25" font-family="'Liberation Sans', 'WenQuanYi Zen Hei', 'Noto Sans CJK SC', sans-serif" text-anchor="middle" font-weight="normal" >闪</text><text x="19.5" y="258.3" fill="#c4c4c4" font-size="25" font-family="'Liberation Sans', 'WenQuanYi Zen Hei', 'Noto Sans CJK SC', sans-serif" text-anchor="middle" font-weight="normal" >电</text><text x="19.5" y="286.3" fill="#c4c4c4" font-size="25" font-family="'Liberation Sans', 'WenQuanYi Zen Hei', 'Noto Sans CJK SC', sans-serif" text-anchor="middle" font-weight="normal" >图</text><text x="19.5" y="334.3" fill="#c4c4c4" font-size="25" font-family="'Liberation Sans', 'WenQuanYi Zen Hei', 'Noto Sans CJK SC', sans-serif" text-anchor="middle" font-weight="normal" >合</text><text x="19.5" y="362.3" fill="#c4c4c4" font-size="25" font-family="'Liberation Sans', 'WenQuanYi Zen Hei', 'Noto Sans CJK SC', sans-serif" text-anchor="middle" font-weight="normal" >约</text><text x="19.5" y="390.3" fill="#c4c4c4" font-size="25" font-family="'Liberation Sans', 'WenQuanYi Zen Hei', 'Noto Sans CJK SC', sans-serif" text-anchor="middle" font-weight="normal" >资</text><text x="19.5" y="418.3" fill="#c4c4c4" font-size="25" font-family="'Liberation Sans', 'WenQuanYi Zen Hei', 'Noto Sans CJK SC', sans-serif" text-anchor="middle" font-weight="normal" >料</text><rect x="38" y="1153" width="1262" height="31" fill="#262626"/><rect x="40" y="1154" width="77" height="30" fill="#0a0a0a"/><text x="78.5" y="1176" fill="#ffffff" font-size="23" font-family="'Liberation Sans', 'Noto Sans CJK SC', 'WenQuanYi Zen Hei', sans-serif" text-anchor="middle" font-weight="500" >指标</text><rect x="120" y="1154" width="77" height="30" fill="#0a0a0a"/><text x="158.5" y="1176" fill="#ffffff" font-size="23" font-family="'Liberation Sans', 'Noto Sans CJK SC', 'WenQuanYi Zen Hei', sans-serif" text-anchor="middle" font-weight="500" >模板</text><rect x="200" y="1152" width="114" height="30" fill="#ff6a00"/><text x="257.0" y="1176" fill="#ffffff" font-size="23" font-family="'Liberation Sans', 'Noto Sans CJK SC', 'WenQuanYi Zen Hei', sans-serif" text-anchor="middle" font-weight="500" >VIP指标</text><rect x="316" y="1154" width="150" height="30" fill="#0a0a0a"/><text x="391.0" y="1175" fill="#c8c8c8" font-size="20" font-family="'Liberation Mono', monospace" text-anchor="middle" font-weight="normal" >BARUPDN_UD</text><rect x="468" y="1154" width="114" height="30" fill="#0a0a0a"/><text x="525.0" y="1175" fill="#c8c8c8" font-size="20" font-family="'Liberation Mono', monospace" text-anchor="middle" font-weight="normal" >BIAS_UD</text><rect x="584" y="1154" width="114" height="30" fill="#0a0a0a"/><text x="641.0" y="1175" fill="#c8c8c8" font-size="20" font-family="'Liberation Mono', monospace" text-anchor="middle" font-weight="normal" >BOLL_UD</text><rect x="700" y="1154" width="101" height="30" fill="#0a0a0a"/><text x="750.5" y="1175" fill="#c8c8c8" font-size="20" font-family="'Liberation Mono', monospace" text-anchor="middle" font-weight="normal" >CCI_UD</text><rect x="803" y="1154" width="103" height="30" fill="#0a0a0a"/><text x="854.5" y="1175" fill="#c8c8c8" font-size="20" font-family="'Liberation Mono', monospace" text-anchor="middle" font-weight="normal" >DMI_UD</text><rect x="908" y="1154" width="138" height="30" fill="#0a0a0a"/><text x="977.0" y="1175" fill="#c8c8c8" font-size="20" font-family="'Liberation Mono', monospace" text-anchor="middle" font-weight="normal" >INSIDE_UD</text><rect x="1048" y="1154" width="91" height="30" fill="#0a0a0a"/><text x="1093.5" y="1175" fill="#c8c8c8" font-size="20" font-family="'Liberation Mono', monospace" text-anchor="middle" font-weight="normal" >KD_UD</text><rect x="1141" y="1154" width="101" height="30" fill="#0a0a0a"/><text x="1191.5" y="1175" fill="#c8c8c8" font-size="20" font-family="'Liberation Mono', monospace" text-anchor="middle" font-weight="normal" >KDJ_UD</text><rect x="1244" y="1154" width="54" height="30" fill="#0a0a0a"/><text x="1271.0" y="1175" fill="#c8c8c8" font-size="20" font-family="'Liberation Mono', monospace" text-anchor="middle" font-weight="normal" >&gt;&gt;</text><rect x="1298" y="1152" width="332" height="1" fill="#212121"/><text x="1500" y="1159" fill="#e2e9f3" font-size="31" font-family="'Liberation Sans', 'Noto Sans CJK SC', sans-serif" text-anchor="start" font-weight="normal" >F</text><text x="1521.4" y="1159" fill="#e2e9f3" font-size="31" font-family="'Liberation Sans', 'Noto Sans CJK SC', sans-serif" text-anchor="start" font-weight="normal" >X</text><text x="1543.9" y="1159" fill="#e2e9f3" font-size="31" font-family="'Liberation Sans', 'Noto Sans CJK SC', sans-serif" text-anchor="start" font-weight="normal" >6</text><text x="1565.8" y="1159" fill="#e2e9f3" font-size="31" font-family="'Liberation Sans', 'Noto Sans CJK SC', sans-serif" text-anchor="start" font-weight="normal" >7</text><text x="1583.3" y="1159" fill="#e2e9f3" font-size="31" font-family="'Liberation Sans', 'Noto Sans CJK SC', sans-serif" text-anchor="start" font-weight="normal" >8</text><rect x="1362" y="0" width="128" height="32" fill="#0a0a0a"/><rect x="1365" y="3" width="26" height="26" fill="none" stroke="#aaaaaa" stroke-width="2"/><g fill="#aaaaaa"><rect x="1376" y="6" width="4" height="6"/><rect x="1376" y="14" width="4" height="4"/><rect x="1376" y="20" width="4" height="6"/><rect x="1368" y="14" width="6" height="4"/><rect x="1382" y="14" width="6" height="4"/></g><rect x="1397" y="3" width="26" height="26" fill="none" stroke="#cccccc" stroke-width="2"/><g fill="#cccccc"><rect x="1402" y="6" width="2" height="20"/><rect x="1400" y="22" width="20" height="2"/><rect x="1408" y="8" width="2" height="12"/><polygon points="1410,14 1416,8 1416,18" shape-rendering="geometricPrecision"/></g><rect x="1429" y="3" width="26" height="26" fill="none" stroke="#1e8fe0" stroke-width="2"/><g fill="#1e8fe0"><rect x="1434" y="6" width="2" height="20"/><rect x="1432" y="22" width="20" height="2"/><rect x="1440" y="8" width="2" height="14"/><polygon points="1441,8 1450,15 1441,22" shape-rendering="geometricPrecision"/></g><rect x="1461" y="3" width="26" height="26" fill="none" stroke="#cccccc" stroke-width="2"/><rect x="1465" y="7" width="6" height="18" fill="none" stroke="#cccccc" stroke-width="2"/><g fill="#cccccc"><rect x="1468" y="14" width="10" height="2"/><polygon points="1476,10 1482,15 1476,20" shape-rendering="geometricPrecision"/></g></svg>
</body></html>
